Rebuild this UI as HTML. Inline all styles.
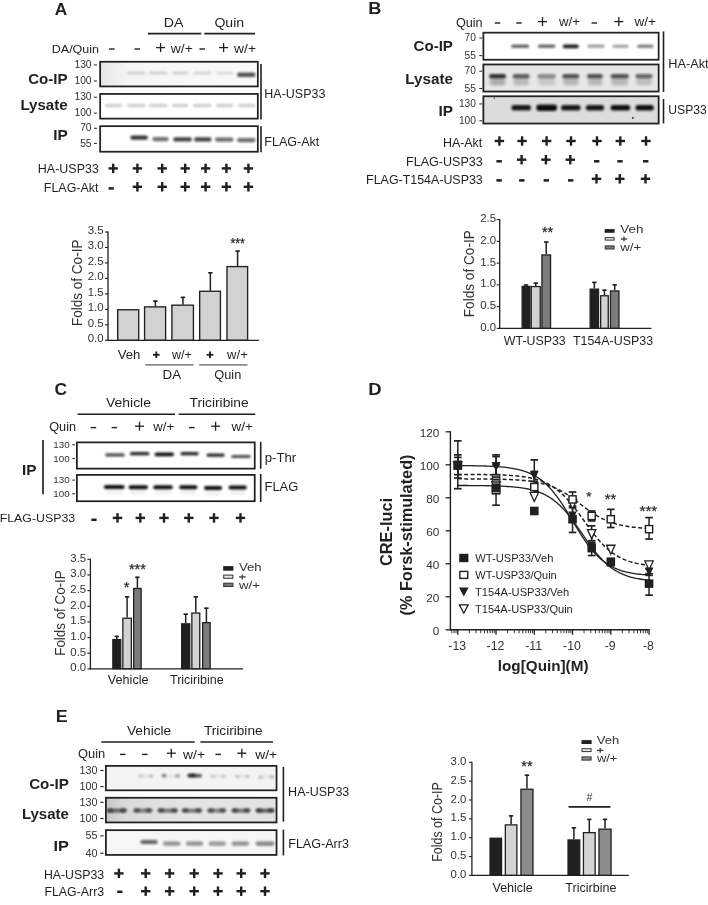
<!DOCTYPE html>
<html><head><meta charset="utf-8"><title>Figure</title>
<style>html,body{margin:0;padding:0;background:#fff;width:708px;height:905px;overflow:hidden;font-family:"Liberation Sans",sans-serif;}svg{display:block;filter:grayscale(1);}</style>
</head><body>
<svg width="708" height="905" viewBox="0 0 708 905" font-family='"Liberation Sans", sans-serif'><defs><filter id="b5" x="-50%" y="-100%" width="200%" height="300%"><feGaussianBlur stdDeviation="0.50"/></filter><filter id="b8" x="-50%" y="-100%" width="200%" height="300%"><feGaussianBlur stdDeviation="0.80"/></filter><filter id="b9" x="-50%" y="-100%" width="200%" height="300%"><feGaussianBlur stdDeviation="0.90"/></filter><filter id="b10" x="-50%" y="-100%" width="200%" height="300%"><feGaussianBlur stdDeviation="1.00"/></filter><filter id="b11" x="-50%" y="-100%" width="200%" height="300%"><feGaussianBlur stdDeviation="1.10"/></filter><filter id="b12" x="-50%" y="-100%" width="200%" height="300%"><feGaussianBlur stdDeviation="1.20"/></filter><filter id="b15" x="-50%" y="-100%" width="200%" height="300%"><feGaussianBlur stdDeviation="1.50"/></filter></defs><rect width="708" height="905" fill="#fff"/><text x="54.88" y="14.50" font-size="16.80" text-anchor="start" font-weight="bold" fill="#231f20" textLength="12.46" lengthAdjust="spacingAndGlyphs">A</text>
<text x="51.78" y="52.50" font-size="11.20" text-anchor="start" fill="#231f20" textLength="47.25" lengthAdjust="spacingAndGlyphs">DA/Quin</text>
<text x="163.68" y="26.70" font-size="12.40" text-anchor="start" fill="#231f20" textLength="19.74" lengthAdjust="spacingAndGlyphs">DA</text>
<text x="214.41" y="26.70" font-size="12.40" text-anchor="start" fill="#231f20" textLength="29.79" lengthAdjust="spacingAndGlyphs">Quin</text>
<line x1="147.90" y1="33.60" x2="201.30" y2="33.60" stroke="#231f20" stroke-width="1.60"/>
<line x1="204.30" y1="33.60" x2="255.10" y2="33.60" stroke="#231f20" stroke-width="1.60"/>
<rect x="109.05" y="48.30" width="5.50" height="1.40" fill="#231f20"/>
<rect x="134.45" y="48.30" width="5.50" height="1.40" fill="#231f20"/>
<rect x="156.10" y="46.95" width="9.00" height="1.30" fill="#231f20"/>
<rect x="159.95" y="43.10" width="1.30" height="9.00" fill="#231f20"/>
<text x="170.82" y="52.60" font-size="12.60" text-anchor="start" fill="#231f20" textLength="22.00" lengthAdjust="spacingAndGlyphs">w/+</text>
<rect x="199.45" y="48.30" width="5.50" height="1.40" fill="#231f20"/>
<rect x="219.10" y="46.95" width="9.00" height="1.30" fill="#231f20"/>
<rect x="222.95" y="43.10" width="1.30" height="9.00" fill="#231f20"/>
<text x="234.02" y="52.60" font-size="12.60" text-anchor="start" fill="#231f20" textLength="22.00" lengthAdjust="spacingAndGlyphs">w/+</text>
<defs><linearGradient id="ga" x1="0" x2="1" y1="0" y2="0"><stop offset="0" stop-color="#e6e6e6"/><stop offset="0.2" stop-color="#f6f6f6"/><stop offset="1" stop-color="#fafafa"/></linearGradient></defs>
<rect x="99.30" y="60.90" width="159.40" height="26.40" fill="url(#ga)"/>
<rect x="127.00" y="71.40" width="18.50" height="3.20" rx="1.60" fill="#111" fill-opacity="0.16" filter="url(#b11)"/>
<rect x="149.00" y="71.40" width="18.50" height="3.20" rx="1.60" fill="#111" fill-opacity="0.16" filter="url(#b11)"/>
<rect x="172.00" y="71.40" width="16.30" height="3.20" rx="1.60" fill="#111" fill-opacity="0.16" filter="url(#b11)"/>
<rect x="193.00" y="71.40" width="18.50" height="3.20" rx="1.60" fill="#111" fill-opacity="0.15" filter="url(#b11)"/>
<rect x="216.00" y="71.40" width="17.50" height="3.20" rx="1.60" fill="#111" fill-opacity="0.12" filter="url(#b11)"/>
<rect x="237.00" y="72.50" width="18.50" height="4.60" rx="2.30" fill="#111" fill-opacity="0.72" filter="url(#b11)"/>
<rect x="105.00" y="103.70" width="17.30" height="3.60" rx="1.80" fill="#111" fill-opacity="0.19" filter="url(#b12)"/>
<rect x="127.00" y="103.70" width="18.50" height="3.60" rx="1.80" fill="#111" fill-opacity="0.19" filter="url(#b12)"/>
<rect x="149.00" y="103.70" width="18.50" height="3.60" rx="1.80" fill="#111" fill-opacity="0.19" filter="url(#b12)"/>
<rect x="172.00" y="103.70" width="16.30" height="3.60" rx="1.80" fill="#111" fill-opacity="0.19" filter="url(#b12)"/>
<rect x="193.00" y="103.70" width="18.50" height="3.60" rx="1.80" fill="#111" fill-opacity="0.19" filter="url(#b12)"/>
<rect x="216.00" y="103.70" width="17.50" height="3.60" rx="1.80" fill="#111" fill-opacity="0.19" filter="url(#b12)"/>
<rect x="238.00" y="103.70" width="17.50" height="3.60" rx="1.80" fill="#111" fill-opacity="0.19" filter="url(#b12)"/>
<rect x="130.40" y="135.40" width="17.40" height="4.40" rx="2.20" fill="#111" fill-opacity="0.85" filter="url(#b10)"/>
<rect x="152.40" y="136.90" width="16.20" height="4.40" rx="2.20" fill="#111" fill-opacity="0.60" filter="url(#b10)"/>
<rect x="173.30" y="137.20" width="18.50" height="4.40" rx="2.20" fill="#111" fill-opacity="0.80" filter="url(#b10)"/>
<rect x="194.10" y="137.20" width="17.40" height="4.40" rx="2.20" fill="#111" fill-opacity="0.78" filter="url(#b10)"/>
<rect x="215.00" y="137.40" width="18.50" height="4.40" rx="2.20" fill="#111" fill-opacity="0.62" filter="url(#b10)"/>
<rect x="237.00" y="137.90" width="18.50" height="4.40" rx="2.20" fill="#111" fill-opacity="0.62" filter="url(#b10)"/>
<rect x="100.17" y="61.77" width="157.65" height="24.65" fill="none" stroke="#231f20" stroke-width="1.75"/>
<rect x="100.17" y="93.97" width="157.65" height="24.65" fill="none" stroke="#231f20" stroke-width="1.75"/>
<rect x="100.17" y="126.17" width="157.65" height="25.55" fill="none" stroke="#231f20" stroke-width="1.75"/>
<text x="91.60" y="68.00" font-size="10.30" text-anchor="end" fill="#333">130</text>
<line x1="94.00" y1="64.90" x2="96.90" y2="64.90" stroke="#333" stroke-width="1.10"/>
<text x="91.60" y="84.10" font-size="10.30" text-anchor="end" fill="#333">100</text>
<line x1="94.00" y1="81.00" x2="96.90" y2="81.00" stroke="#333" stroke-width="1.10"/>
<text x="91.60" y="100.30" font-size="10.30" text-anchor="end" fill="#333">130</text>
<line x1="94.00" y1="97.20" x2="96.90" y2="97.20" stroke="#333" stroke-width="1.10"/>
<text x="91.60" y="116.20" font-size="10.30" text-anchor="end" fill="#333">100</text>
<line x1="94.00" y1="113.10" x2="96.90" y2="113.10" stroke="#333" stroke-width="1.10"/>
<text x="91.60" y="131.40" font-size="10.30" text-anchor="end" fill="#333">70</text>
<line x1="94.00" y1="128.30" x2="96.90" y2="128.30" stroke="#333" stroke-width="1.10"/>
<text x="91.60" y="146.50" font-size="10.30" text-anchor="end" fill="#333">55</text>
<line x1="94.00" y1="143.40" x2="96.90" y2="143.40" stroke="#333" stroke-width="1.10"/>
<text x="28.17" y="83.50" font-size="15.30" text-anchor="start" font-weight="bold" fill="#231f20" textLength="39.45" lengthAdjust="spacingAndGlyphs">Co-IP</text>
<text x="20.38" y="110.30" font-size="15.30" text-anchor="start" font-weight="bold" fill="#231f20" textLength="47.25" lengthAdjust="spacingAndGlyphs">Lysate</text>
<text x="53.18" y="139.80" font-size="15.30" text-anchor="start" font-weight="bold" fill="#231f20" textLength="14.45" lengthAdjust="spacingAndGlyphs">IP</text>
<line x1="261.00" y1="64.00" x2="261.00" y2="119.40" stroke="#231f20" stroke-width="1.60"/>
<line x1="261.00" y1="126.20" x2="261.00" y2="152.20" stroke="#231f20" stroke-width="1.60"/>
<text x="264.38" y="98.00" font-size="12.40" text-anchor="start" fill="#231f20" textLength="60.96" lengthAdjust="spacingAndGlyphs">HA-USP33</text>
<text x="264.38" y="146.00" font-size="12.40" text-anchor="start" fill="#231f20" textLength="54.91" lengthAdjust="spacingAndGlyphs">FLAG-Akt</text>
<text x="37.89" y="173.30" font-size="12.30" text-anchor="start" fill="#231f20" textLength="60.95" lengthAdjust="spacingAndGlyphs">HA-USP33</text>
<text x="43.89" y="191.90" font-size="12.30" text-anchor="start" fill="#231f20" textLength="54.50" lengthAdjust="spacingAndGlyphs">FLAG-Akt</text>
<rect x="108.50" y="167.20" width="9.40" height="2.40" fill="#231f20"/>
<rect x="112.00" y="163.70" width="2.40" height="9.40" fill="#231f20"/>
<rect x="108.60" y="187.15" width="5.20" height="2.50" fill="#231f20"/>
<rect x="132.70" y="167.20" width="9.40" height="2.40" fill="#231f20"/>
<rect x="136.20" y="163.70" width="2.40" height="9.40" fill="#231f20"/>
<rect x="132.70" y="185.60" width="9.40" height="2.40" fill="#231f20"/>
<rect x="136.20" y="182.10" width="2.40" height="9.40" fill="#231f20"/>
<rect x="157.50" y="167.20" width="9.40" height="2.40" fill="#231f20"/>
<rect x="161.00" y="163.70" width="2.40" height="9.40" fill="#231f20"/>
<rect x="157.50" y="185.60" width="9.40" height="2.40" fill="#231f20"/>
<rect x="161.00" y="182.10" width="2.40" height="9.40" fill="#231f20"/>
<rect x="180.50" y="167.20" width="9.40" height="2.40" fill="#231f20"/>
<rect x="184.00" y="163.70" width="2.40" height="9.40" fill="#231f20"/>
<rect x="180.50" y="185.60" width="9.40" height="2.40" fill="#231f20"/>
<rect x="184.00" y="182.10" width="2.40" height="9.40" fill="#231f20"/>
<rect x="200.90" y="167.20" width="9.40" height="2.40" fill="#231f20"/>
<rect x="204.40" y="163.70" width="2.40" height="9.40" fill="#231f20"/>
<rect x="200.90" y="185.60" width="9.40" height="2.40" fill="#231f20"/>
<rect x="204.40" y="182.10" width="2.40" height="9.40" fill="#231f20"/>
<rect x="221.70" y="167.20" width="9.40" height="2.40" fill="#231f20"/>
<rect x="225.20" y="163.70" width="2.40" height="9.40" fill="#231f20"/>
<rect x="221.70" y="185.60" width="9.40" height="2.40" fill="#231f20"/>
<rect x="225.20" y="182.10" width="2.40" height="9.40" fill="#231f20"/>
<rect x="243.70" y="167.20" width="9.40" height="2.40" fill="#231f20"/>
<rect x="247.20" y="163.70" width="2.40" height="9.40" fill="#231f20"/>
<rect x="243.70" y="185.60" width="9.40" height="2.40" fill="#231f20"/>
<rect x="247.20" y="182.10" width="2.40" height="9.40" fill="#231f20"/>
<line x1="108.00" y1="231.50" x2="108.00" y2="340.90" stroke="#231f20" stroke-width="1.30"/>
<line x1="107.30" y1="340.30" x2="258.80" y2="340.30" stroke="#231f20" stroke-width="1.30"/>
<line x1="105.00" y1="340.30" x2="108.00" y2="340.30" stroke="#231f20" stroke-width="1.10"/>
<text x="103.60" y="342.00" font-size="11.40" text-anchor="end" fill="#333">0.0</text>
<line x1="105.00" y1="324.83" x2="108.00" y2="324.83" stroke="#231f20" stroke-width="1.10"/>
<text x="103.60" y="326.53" font-size="11.40" text-anchor="end" fill="#333">0.5</text>
<line x1="105.00" y1="309.36" x2="108.00" y2="309.36" stroke="#231f20" stroke-width="1.10"/>
<text x="103.60" y="311.06" font-size="11.40" text-anchor="end" fill="#333">1.0</text>
<line x1="105.00" y1="293.89" x2="108.00" y2="293.89" stroke="#231f20" stroke-width="1.10"/>
<text x="103.60" y="295.59" font-size="11.40" text-anchor="end" fill="#333">1.5</text>
<line x1="105.00" y1="278.41" x2="108.00" y2="278.41" stroke="#231f20" stroke-width="1.10"/>
<text x="103.60" y="280.11" font-size="11.40" text-anchor="end" fill="#333">2.0</text>
<line x1="105.00" y1="262.94" x2="108.00" y2="262.94" stroke="#231f20" stroke-width="1.10"/>
<text x="103.60" y="264.64" font-size="11.40" text-anchor="end" fill="#333">2.5</text>
<line x1="105.00" y1="247.47" x2="108.00" y2="247.47" stroke="#231f20" stroke-width="1.10"/>
<text x="103.60" y="249.17" font-size="11.40" text-anchor="end" fill="#333">3.0</text>
<line x1="105.00" y1="232.00" x2="108.00" y2="232.00" stroke="#231f20" stroke-width="1.10"/>
<text x="103.60" y="233.70" font-size="11.40" text-anchor="end" fill="#333">3.5</text>
<text transform="translate(81.80 282.80) rotate(-90)" x="0" y="0" font-size="14.00" text-anchor="middle" fill="#333" textLength="86.50" lengthAdjust="spacingAndGlyphs">Folds of Co-IP</text>
<rect x="117.67" y="309.78" width="21.05" height="30.35" fill="#d1d2d4" stroke="#231f20" stroke-width="1.35"/>
<line x1="155.40" y1="306.40" x2="155.40" y2="300.50" stroke="#231f20" stroke-width="1.50"/>
<line x1="153.20" y1="301.10" x2="157.60" y2="301.10" stroke="#231f20" stroke-width="1.60"/>
<rect x="144.57" y="306.88" width="21.05" height="33.25" fill="#d1d2d4" stroke="#231f20" stroke-width="1.35"/>
<line x1="182.95" y1="304.70" x2="182.95" y2="296.80" stroke="#231f20" stroke-width="1.50"/>
<line x1="180.75" y1="297.40" x2="185.15" y2="297.40" stroke="#231f20" stroke-width="1.60"/>
<rect x="171.88" y="305.18" width="21.55" height="34.95" fill="#d1d2d4" stroke="#231f20" stroke-width="1.35"/>
<line x1="210.35" y1="290.80" x2="210.35" y2="272.20" stroke="#231f20" stroke-width="1.50"/>
<line x1="208.15" y1="272.80" x2="212.55" y2="272.80" stroke="#231f20" stroke-width="1.60"/>
<rect x="199.68" y="291.28" width="20.75" height="48.85" fill="#d1d2d4" stroke="#231f20" stroke-width="1.35"/>
<line x1="237.60" y1="266.10" x2="237.60" y2="250.50" stroke="#231f20" stroke-width="1.50"/>
<line x1="235.40" y1="251.10" x2="239.80" y2="251.10" stroke="#231f20" stroke-width="1.60"/>
<rect x="226.97" y="266.58" width="20.65" height="73.55" fill="#d1d2d4" stroke="#231f20" stroke-width="1.35"/>
<text x="237.70" y="247.53" font-size="14.00" text-anchor="middle" fill="#2a2a2a" stroke="#2a2a2a" stroke-width="0.25" textLength="14.60" lengthAdjust="spacingAndGlyphs">***</text>
<text x="117.74" y="359.00" font-size="12.80" text-anchor="start" fill="#231f20" textLength="22.69" lengthAdjust="spacingAndGlyphs">Veh</text>
<rect x="153.00" y="353.85" width="6.60" height="1.90" fill="#231f20"/>
<rect x="155.35" y="351.50" width="1.90" height="6.60" fill="#231f20"/>
<text x="172.02" y="359.00" font-size="12.80" text-anchor="start" fill="#231f20" textLength="19.81" lengthAdjust="spacingAndGlyphs">w/+</text>
<rect x="206.70" y="353.85" width="6.60" height="1.90" fill="#231f20"/>
<rect x="209.05" y="351.50" width="1.90" height="6.60" fill="#231f20"/>
<text x="227.12" y="359.00" font-size="12.80" text-anchor="start" fill="#231f20" textLength="20.71" lengthAdjust="spacingAndGlyphs">w/+</text>
<line x1="145.30" y1="364.90" x2="193.60" y2="364.90" stroke="#8a8a8a" stroke-width="1.60"/>
<line x1="199.20" y1="364.90" x2="247.50" y2="364.90" stroke="#8a8a8a" stroke-width="1.60"/>
<text x="162.58" y="378.60" font-size="12.40" text-anchor="start" fill="#231f20" textLength="18.54" lengthAdjust="spacingAndGlyphs">DA</text>
<text x="214.31" y="378.60" font-size="12.40" text-anchor="start" fill="#231f20" textLength="26.99" lengthAdjust="spacingAndGlyphs">Quin</text>
<text x="368.18" y="14.10" font-size="16.80" text-anchor="start" font-weight="bold" fill="#231f20" textLength="13.19" lengthAdjust="spacingAndGlyphs">B</text>
<text x="455.91" y="26.70" font-size="12.40" text-anchor="start" fill="#231f20" textLength="26.69" lengthAdjust="spacingAndGlyphs">Quin</text>
<rect x="494.75" y="22.30" width="5.50" height="1.40" fill="#231f20"/>
<rect x="516.25" y="22.30" width="5.50" height="1.40" fill="#231f20"/>
<rect x="538.00" y="20.95" width="9.00" height="1.30" fill="#231f20"/>
<rect x="541.85" y="17.10" width="1.30" height="9.00" fill="#231f20"/>
<text x="559.02" y="26.40" font-size="12.60" text-anchor="start" fill="#231f20" textLength="21.00" lengthAdjust="spacingAndGlyphs">w/+</text>
<rect x="591.55" y="22.30" width="5.50" height="1.40" fill="#231f20"/>
<rect x="614.30" y="20.95" width="9.00" height="1.30" fill="#231f20"/>
<rect x="618.15" y="17.10" width="1.30" height="9.00" fill="#231f20"/>
<text x="634.42" y="26.40" font-size="12.60" text-anchor="start" fill="#231f20" textLength="21.50" lengthAdjust="spacingAndGlyphs">w/+</text>
<rect x="482.50" y="63.60" width="177.00" height="28.80" fill="#e7e7e7"/>
<rect x="482.50" y="95.40" width="177.00" height="29.00" fill="#dcdcdc"/>
<rect x="511.30" y="44.80" width="17.80" height="3.00" rx="1.50" fill="#111" fill-opacity="0.72" filter="url(#b8)"/>
<rect x="538.00" y="44.80" width="17.30" height="3.00" rx="1.50" fill="#111" fill-opacity="0.70" filter="url(#b8)"/>
<rect x="562.80" y="44.40" width="16.00" height="3.80" rx="1.90" fill="#111" fill-opacity="0.95" filter="url(#b8)"/>
<rect x="587.60" y="44.80" width="16.80" height="3.00" rx="1.50" fill="#111" fill-opacity="0.45" filter="url(#b8)"/>
<rect x="612.50" y="44.80" width="16.00" height="3.00" rx="1.50" fill="#111" fill-opacity="0.38" filter="url(#b8)"/>
<rect x="637.30" y="44.80" width="16.00" height="3.00" rx="1.50" fill="#111" fill-opacity="0.60" filter="url(#b8)"/>
<rect x="489.10" y="74.10" width="17.00" height="4.40" rx="2.20" fill="#111" fill-opacity="0.85" filter="url(#b10)"/>
<rect x="489.60" y="78.50" width="16.00" height="7.00" rx="3.50" fill="#111" fill-opacity="0.26" filter="url(#b15)"/>
<rect x="512.70" y="74.10" width="16.90" height="4.40" rx="2.20" fill="#111" fill-opacity="0.65" filter="url(#b10)"/>
<rect x="513.20" y="78.50" width="15.90" height="7.00" rx="3.50" fill="#111" fill-opacity="0.20" filter="url(#b15)"/>
<rect x="537.50" y="74.10" width="18.30" height="4.40" rx="2.20" fill="#111" fill-opacity="0.45" filter="url(#b10)"/>
<rect x="538.00" y="78.50" width="17.30" height="7.00" rx="3.50" fill="#111" fill-opacity="0.14" filter="url(#b15)"/>
<rect x="562.30" y="74.10" width="17.00" height="4.40" rx="2.20" fill="#111" fill-opacity="0.70" filter="url(#b10)"/>
<rect x="562.80" y="78.50" width="16.00" height="7.00" rx="3.50" fill="#111" fill-opacity="0.21" filter="url(#b15)"/>
<rect x="587.10" y="74.10" width="15.80" height="4.40" rx="2.20" fill="#111" fill-opacity="0.70" filter="url(#b10)"/>
<rect x="587.60" y="78.50" width="14.80" height="7.00" rx="3.50" fill="#111" fill-opacity="0.21" filter="url(#b15)"/>
<rect x="610.60" y="74.10" width="18.30" height="4.40" rx="2.20" fill="#111" fill-opacity="0.70" filter="url(#b10)"/>
<rect x="611.10" y="78.50" width="17.30" height="7.00" rx="3.50" fill="#111" fill-opacity="0.21" filter="url(#b15)"/>
<rect x="635.50" y="74.10" width="17.00" height="4.40" rx="2.20" fill="#111" fill-opacity="0.60" filter="url(#b10)"/>
<rect x="636.00" y="78.50" width="16.00" height="7.00" rx="3.50" fill="#111" fill-opacity="0.18" filter="url(#b15)"/>
<rect x="511.40" y="104.90" width="19.60" height="5.60" rx="2.80" fill="#111" fill-opacity="0.95" filter="url(#b9)"/>
<rect x="536.20" y="104.50" width="20.90" height="6.40" rx="3.20" fill="#111" fill-opacity="1.00" filter="url(#b9)"/>
<rect x="561.00" y="104.90" width="19.60" height="5.60" rx="2.80" fill="#111" fill-opacity="0.95" filter="url(#b9)"/>
<rect x="585.80" y="104.90" width="18.30" height="5.60" rx="2.80" fill="#111" fill-opacity="0.95" filter="url(#b9)"/>
<rect x="610.60" y="104.90" width="19.60" height="5.60" rx="2.80" fill="#111" fill-opacity="1.00" filter="url(#b9)"/>
<rect x="635.50" y="104.90" width="18.30" height="5.60" rx="2.80" fill="#111" fill-opacity="1.00" filter="url(#b9)"/>
<rect x="493.60" y="97.50" width="1.60" height="1.60" rx="0.80" fill="#111" fill-opacity="0.70" filter="url(#b5)"/>
<rect x="631.90" y="117.00" width="2.00" height="2.00" rx="1.00" fill="#111" fill-opacity="0.80" filter="url(#b5)"/>
<rect x="483.38" y="32.67" width="175.25" height="27.05" fill="none" stroke="#231f20" stroke-width="1.75"/>
<rect x="483.38" y="64.47" width="175.25" height="27.05" fill="none" stroke="#231f20" stroke-width="1.75"/>
<rect x="483.38" y="96.28" width="175.25" height="27.25" fill="none" stroke="#231f20" stroke-width="1.75"/>
<text x="475.90" y="41.00" font-size="10.20" text-anchor="end" fill="#333">70</text>
<line x1="479.30" y1="38.00" x2="482.20" y2="38.00" stroke="#333" stroke-width="1.10"/>
<text x="475.90" y="58.60" font-size="10.20" text-anchor="end" fill="#333">55</text>
<line x1="479.30" y1="55.60" x2="482.20" y2="55.60" stroke="#333" stroke-width="1.10"/>
<text x="475.90" y="74.20" font-size="10.20" text-anchor="end" fill="#333">70</text>
<line x1="479.30" y1="71.20" x2="482.20" y2="71.20" stroke="#333" stroke-width="1.10"/>
<text x="475.90" y="91.50" font-size="10.20" text-anchor="end" fill="#333">55</text>
<line x1="479.30" y1="88.50" x2="482.20" y2="88.50" stroke="#333" stroke-width="1.10"/>
<text x="475.90" y="106.90" font-size="10.20" text-anchor="end" fill="#333">130</text>
<line x1="479.30" y1="103.90" x2="482.20" y2="103.90" stroke="#333" stroke-width="1.10"/>
<text x="475.90" y="123.80" font-size="10.20" text-anchor="end" fill="#333">100</text>
<line x1="479.30" y1="120.80" x2="482.20" y2="120.80" stroke="#333" stroke-width="1.10"/>
<text x="413.57" y="51.00" font-size="15.30" text-anchor="start" font-weight="bold" fill="#231f20" textLength="39.35" lengthAdjust="spacingAndGlyphs">Co-IP</text>
<text x="405.28" y="84.30" font-size="15.30" text-anchor="start" font-weight="bold" fill="#231f20" textLength="47.65" lengthAdjust="spacingAndGlyphs">Lysate</text>
<text x="438.48" y="116.10" font-size="15.30" text-anchor="start" font-weight="bold" fill="#231f20" textLength="14.45" lengthAdjust="spacingAndGlyphs">IP</text>
<line x1="663.50" y1="31.40" x2="663.50" y2="91.90" stroke="#231f20" stroke-width="1.60"/>
<line x1="663.50" y1="99.00" x2="663.50" y2="123.40" stroke="#231f20" stroke-width="1.60"/>
<text x="668.32" y="68.10" font-size="12.00" text-anchor="start" fill="#231f20" textLength="40.27" lengthAdjust="spacingAndGlyphs">HA-Akt</text>
<text x="668.37" y="114.40" font-size="12.00" text-anchor="start" fill="#231f20" textLength="38.45" lengthAdjust="spacingAndGlyphs">USP33</text>
<text x="442.91" y="146.60" font-size="12.10" text-anchor="start" fill="#231f20" textLength="39.38" lengthAdjust="spacingAndGlyphs">HA-Akt</text>
<text x="406.01" y="165.70" font-size="12.10" text-anchor="start" fill="#231f20" textLength="76.72" lengthAdjust="spacingAndGlyphs">FLAG-USP33</text>
<text x="366.11" y="184.20" font-size="12.10" text-anchor="start" fill="#231f20" textLength="116.62" lengthAdjust="spacingAndGlyphs">FLAG-T154A-USP33</text>
<rect x="494.70" y="139.80" width="9.40" height="2.40" fill="#231f20"/>
<rect x="498.20" y="136.30" width="2.40" height="9.40" fill="#231f20"/>
<rect x="496.40" y="160.05" width="5.40" height="2.50" fill="#231f20"/>
<rect x="496.40" y="179.15" width="5.40" height="2.50" fill="#231f20"/>
<rect x="517.40" y="139.80" width="9.40" height="2.40" fill="#231f20"/>
<rect x="520.90" y="136.30" width="2.40" height="9.40" fill="#231f20"/>
<rect x="516.90" y="158.50" width="9.40" height="2.40" fill="#231f20"/>
<rect x="520.40" y="155.00" width="2.40" height="9.40" fill="#231f20"/>
<rect x="519.10" y="179.15" width="5.40" height="2.50" fill="#231f20"/>
<rect x="541.90" y="139.80" width="9.40" height="2.40" fill="#231f20"/>
<rect x="545.40" y="136.30" width="2.40" height="9.40" fill="#231f20"/>
<rect x="541.20" y="158.50" width="9.40" height="2.40" fill="#231f20"/>
<rect x="544.70" y="155.00" width="2.40" height="9.40" fill="#231f20"/>
<rect x="543.60" y="179.15" width="5.40" height="2.50" fill="#231f20"/>
<rect x="566.30" y="139.80" width="9.40" height="2.40" fill="#231f20"/>
<rect x="569.80" y="136.30" width="2.40" height="9.40" fill="#231f20"/>
<rect x="565.60" y="158.50" width="9.40" height="2.40" fill="#231f20"/>
<rect x="569.10" y="155.00" width="2.40" height="9.40" fill="#231f20"/>
<rect x="568.00" y="179.15" width="5.40" height="2.50" fill="#231f20"/>
<rect x="592.30" y="139.80" width="9.40" height="2.40" fill="#231f20"/>
<rect x="595.80" y="136.30" width="2.40" height="9.40" fill="#231f20"/>
<rect x="594.00" y="160.05" width="5.40" height="2.50" fill="#231f20"/>
<rect x="591.80" y="177.60" width="9.40" height="2.40" fill="#231f20"/>
<rect x="595.30" y="174.10" width="2.40" height="9.40" fill="#231f20"/>
<rect x="615.60" y="139.80" width="9.40" height="2.40" fill="#231f20"/>
<rect x="619.10" y="136.30" width="2.40" height="9.40" fill="#231f20"/>
<rect x="617.30" y="160.05" width="5.40" height="2.50" fill="#231f20"/>
<rect x="615.10" y="177.60" width="9.40" height="2.40" fill="#231f20"/>
<rect x="618.60" y="174.10" width="2.40" height="9.40" fill="#231f20"/>
<rect x="641.30" y="139.80" width="9.40" height="2.40" fill="#231f20"/>
<rect x="644.80" y="136.30" width="2.40" height="9.40" fill="#231f20"/>
<rect x="643.00" y="160.05" width="5.40" height="2.50" fill="#231f20"/>
<rect x="640.80" y="177.60" width="9.40" height="2.40" fill="#231f20"/>
<rect x="644.30" y="174.10" width="2.40" height="9.40" fill="#231f20"/>
<line x1="499.70" y1="219.10" x2="499.70" y2="329.00" stroke="#231f20" stroke-width="1.30"/>
<line x1="499.00" y1="328.40" x2="651.40" y2="328.40" stroke="#231f20" stroke-width="1.30"/>
<line x1="496.70" y1="328.40" x2="499.70" y2="328.40" stroke="#231f20" stroke-width="1.10"/>
<text x="496.00" y="330.90" font-size="11.40" text-anchor="end" fill="#333">0.0</text>
<line x1="496.70" y1="306.64" x2="499.70" y2="306.64" stroke="#231f20" stroke-width="1.10"/>
<text x="496.00" y="309.14" font-size="11.40" text-anchor="end" fill="#333">0.5</text>
<line x1="496.70" y1="284.88" x2="499.70" y2="284.88" stroke="#231f20" stroke-width="1.10"/>
<text x="496.00" y="287.38" font-size="11.40" text-anchor="end" fill="#333">1.0</text>
<line x1="496.70" y1="263.12" x2="499.70" y2="263.12" stroke="#231f20" stroke-width="1.10"/>
<text x="496.00" y="265.62" font-size="11.40" text-anchor="end" fill="#333">1.5</text>
<line x1="496.70" y1="241.36" x2="499.70" y2="241.36" stroke="#231f20" stroke-width="1.10"/>
<text x="496.00" y="243.86" font-size="11.40" text-anchor="end" fill="#333">2.0</text>
<line x1="496.70" y1="219.60" x2="499.70" y2="219.60" stroke="#231f20" stroke-width="1.10"/>
<text x="496.00" y="222.10" font-size="11.40" text-anchor="end" fill="#333">2.5</text>
<text transform="translate(473.80 273.70) rotate(-90)" x="0" y="0" font-size="14.00" text-anchor="middle" fill="#333" textLength="87.00" lengthAdjust="spacingAndGlyphs">Folds of Co-IP</text>
<line x1="526.05" y1="285.80" x2="526.05" y2="284.40" stroke="#231f20" stroke-width="1.50"/>
<line x1="523.85" y1="285.00" x2="528.25" y2="285.00" stroke="#231f20" stroke-width="1.60"/>
<line x1="535.75" y1="285.90" x2="535.75" y2="282.60" stroke="#231f20" stroke-width="1.50"/>
<line x1="533.55" y1="283.20" x2="537.95" y2="283.20" stroke="#231f20" stroke-width="1.60"/>
<line x1="546.25" y1="254.30" x2="546.25" y2="241.40" stroke="#231f20" stroke-width="1.50"/>
<line x1="544.05" y1="242.00" x2="548.45" y2="242.00" stroke="#231f20" stroke-width="1.60"/>
<line x1="594.35" y1="288.50" x2="594.35" y2="281.80" stroke="#231f20" stroke-width="1.50"/>
<line x1="592.15" y1="282.40" x2="596.55" y2="282.40" stroke="#231f20" stroke-width="1.60"/>
<line x1="604.45" y1="295.10" x2="604.45" y2="289.60" stroke="#231f20" stroke-width="1.50"/>
<line x1="602.25" y1="290.20" x2="606.65" y2="290.20" stroke="#231f20" stroke-width="1.60"/>
<line x1="614.70" y1="290.30" x2="614.70" y2="284.30" stroke="#231f20" stroke-width="1.50"/>
<line x1="612.50" y1="284.90" x2="616.90" y2="284.90" stroke="#231f20" stroke-width="1.60"/>
<rect x="522.15" y="286.45" width="7.80" height="41.80" fill="#231f20" stroke="#231f20" stroke-width="1.30"/>
<rect x="531.25" y="286.55" width="9.00" height="41.70" fill="#d1d2d4" stroke="#231f20" stroke-width="1.30"/>
<rect x="541.95" y="254.95" width="8.60" height="73.30" fill="#7b7c7e" stroke="#231f20" stroke-width="1.30"/>
<rect x="590.15" y="289.15" width="8.40" height="39.10" fill="#231f20" stroke="#231f20" stroke-width="1.30"/>
<rect x="600.65" y="295.75" width="7.60" height="32.50" fill="#d1d2d4" stroke="#231f20" stroke-width="1.30"/>
<rect x="610.45" y="290.95" width="8.50" height="37.30" fill="#7b7c7e" stroke="#231f20" stroke-width="1.30"/>
<text x="547.60" y="237.08" font-size="14.50" text-anchor="middle" fill="#2a2a2a" stroke="#2a2a2a" stroke-width="0.25">**</text>
<rect x="604.70" y="229.10" width="9.90" height="3.70" fill="#231f20"/>
<rect x="605.20" y="237.60" width="8.90" height="2.50" fill="#e6e6e6" stroke="#333" stroke-width="1.00"/>
<rect x="605.20" y="245.90" width="8.90" height="3.10" fill="#7b7c7e" stroke="#333" stroke-width="1.00"/>
<text x="620.15" y="232.90" font-size="11.20" text-anchor="start" fill="#333" textLength="23.28" lengthAdjust="spacingAndGlyphs">Veh</text>
<rect x="620.80" y="238.30" width="6.40" height="1.40" fill="#444"/>
<rect x="623.30" y="236.60" width="1.40" height="4.80" fill="#444"/>
<text x="620.22" y="251.00" font-size="11.20" text-anchor="start" fill="#333" textLength="21.14" lengthAdjust="spacingAndGlyphs">w/+</text>
<text x="503.84" y="344.80" font-size="12.70" text-anchor="start" fill="#231f20" textLength="61.91" lengthAdjust="spacingAndGlyphs">WT-USP33</text>
<text x="572.91" y="344.80" font-size="12.70" text-anchor="start" fill="#231f20" textLength="80.24" lengthAdjust="spacingAndGlyphs">T154A-USP33</text>
<text x="54.51" y="395.10" font-size="16.80" text-anchor="start" font-weight="bold" fill="#231f20" textLength="12.55" lengthAdjust="spacingAndGlyphs">C</text>
<text x="106.04" y="407.20" font-size="13.00" text-anchor="start" fill="#231f20" textLength="44.93" lengthAdjust="spacingAndGlyphs">Vehicle</text>
<text x="189.51" y="407.20" font-size="13.00" text-anchor="start" fill="#231f20" textLength="59.17" lengthAdjust="spacingAndGlyphs">Triciribine</text>
<line x1="77.50" y1="414.30" x2="175.00" y2="414.30" stroke="#231f20" stroke-width="1.60"/>
<line x1="178.60" y1="414.30" x2="255.30" y2="414.30" stroke="#231f20" stroke-width="1.60"/>
<text x="49.21" y="431.00" font-size="12.40" text-anchor="start" fill="#231f20" textLength="26.89" lengthAdjust="spacingAndGlyphs">Quin</text>
<rect x="90.65" y="426.90" width="5.50" height="1.40" fill="#231f20"/>
<rect x="111.65" y="426.90" width="5.50" height="1.40" fill="#231f20"/>
<rect x="135.00" y="425.55" width="9.00" height="1.30" fill="#231f20"/>
<rect x="138.85" y="421.70" width="1.30" height="9.00" fill="#231f20"/>
<text x="153.22" y="430.60" font-size="12.60" text-anchor="start" fill="#231f20" textLength="20.90" lengthAdjust="spacingAndGlyphs">w/+</text>
<rect x="189.05" y="426.90" width="5.50" height="1.40" fill="#231f20"/>
<rect x="211.10" y="425.55" width="9.00" height="1.30" fill="#231f20"/>
<rect x="214.95" y="421.70" width="1.30" height="9.00" fill="#231f20"/>
<text x="231.62" y="430.60" font-size="12.60" text-anchor="start" fill="#231f20" textLength="21.30" lengthAdjust="spacingAndGlyphs">w/+</text>
<line x1="43.00" y1="440.00" x2="43.00" y2="494.30" stroke="#231f20" stroke-width="1.70"/>
<text x="22.00" y="475.10" font-size="15.00" text-anchor="start" font-weight="bold" fill="#231f20" textLength="14.42" lengthAdjust="spacingAndGlyphs">IP</text>
<rect x="105.20" y="453.30" width="19.50" height="3.20" rx="1.60" fill="#111" fill-opacity="0.75" filter="url(#b8)"/>
<rect x="129.90" y="452.10" width="19.50" height="3.20" rx="1.60" fill="#111" fill-opacity="0.90" filter="url(#b8)"/>
<rect x="154.60" y="452.40" width="19.40" height="3.80" rx="1.90" fill="#111" fill-opacity="1.00" filter="url(#b8)"/>
<rect x="180.50" y="452.10" width="18.20" height="3.20" rx="1.60" fill="#111" fill-opacity="0.90" filter="url(#b8)"/>
<rect x="206.50" y="453.50" width="18.20" height="3.20" rx="1.60" fill="#111" fill-opacity="0.90" filter="url(#b8)"/>
<rect x="231.20" y="454.90" width="19.50" height="3.20" rx="1.60" fill="#111" fill-opacity="0.75" filter="url(#b8)"/>
<rect x="103.90" y="485.00" width="20.80" height="4.00" rx="2.00" fill="#111" fill-opacity="1.00" filter="url(#b9)"/>
<rect x="105.40" y="490.50" width="17.80" height="4.00" rx="2.00" fill="#111" fill-opacity="0.06" filter="url(#b12)"/>
<rect x="128.60" y="485.20" width="19.40" height="4.00" rx="2.00" fill="#111" fill-opacity="1.00" filter="url(#b9)"/>
<rect x="130.10" y="490.70" width="16.40" height="4.00" rx="2.00" fill="#111" fill-opacity="0.06" filter="url(#b12)"/>
<rect x="153.30" y="485.20" width="19.50" height="4.00" rx="2.00" fill="#111" fill-opacity="1.00" filter="url(#b9)"/>
<rect x="154.80" y="490.70" width="16.50" height="4.00" rx="2.00" fill="#111" fill-opacity="0.06" filter="url(#b12)"/>
<rect x="179.20" y="485.20" width="18.20" height="4.00" rx="2.00" fill="#111" fill-opacity="1.00" filter="url(#b9)"/>
<rect x="180.70" y="490.70" width="15.20" height="4.00" rx="2.00" fill="#111" fill-opacity="0.06" filter="url(#b12)"/>
<rect x="204.00" y="486.00" width="18.10" height="4.00" rx="2.00" fill="#111" fill-opacity="1.00" filter="url(#b9)"/>
<rect x="205.50" y="491.50" width="15.10" height="4.00" rx="2.00" fill="#111" fill-opacity="0.06" filter="url(#b12)"/>
<rect x="228.60" y="485.60" width="18.20" height="4.00" rx="2.00" fill="#111" fill-opacity="1.00" filter="url(#b9)"/>
<rect x="230.10" y="491.10" width="15.20" height="4.00" rx="2.00" fill="#111" fill-opacity="0.06" filter="url(#b12)"/>
<rect x="76.88" y="442.38" width="177.85" height="26.25" fill="none" stroke="#231f20" stroke-width="1.75"/>
<rect x="76.88" y="474.88" width="177.85" height="26.35" fill="none" stroke="#231f20" stroke-width="1.75"/>
<text x="69.60" y="447.90" font-size="9.80" text-anchor="end" fill="#333">130</text>
<line x1="72.30" y1="444.70" x2="75.00" y2="444.70" stroke="#333" stroke-width="1.10"/>
<text x="69.60" y="461.70" font-size="9.80" text-anchor="end" fill="#333">100</text>
<line x1="72.30" y1="458.50" x2="75.00" y2="458.50" stroke="#333" stroke-width="1.10"/>
<text x="69.60" y="483.30" font-size="9.80" text-anchor="end" fill="#333">130</text>
<line x1="72.30" y1="480.10" x2="75.00" y2="480.10" stroke="#333" stroke-width="1.10"/>
<text x="69.60" y="497.00" font-size="9.80" text-anchor="end" fill="#333">100</text>
<line x1="72.30" y1="493.80" x2="75.00" y2="493.80" stroke="#333" stroke-width="1.10"/>
<line x1="260.70" y1="441.80" x2="260.70" y2="468.70" stroke="#231f20" stroke-width="1.60"/>
<line x1="260.70" y1="474.00" x2="260.70" y2="502.00" stroke="#231f20" stroke-width="1.60"/>
<text x="264.73" y="462.40" font-size="12.00" text-anchor="start" fill="#231f20" textLength="31.47" lengthAdjust="spacingAndGlyphs">p-Thr</text>
<text x="264.52" y="491.40" font-size="12.00" text-anchor="start" fill="#231f20" textLength="33.78" lengthAdjust="spacingAndGlyphs">FLAG</text>
<text x="-0.27" y="521.60" font-size="11.80" text-anchor="start" fill="#231f20" textLength="75.39" lengthAdjust="spacingAndGlyphs">FLAG-USP33</text>
<rect x="91.40" y="518.55" width="5.20" height="2.50" fill="#231f20"/>
<rect x="112.80" y="516.70" width="9.40" height="2.40" fill="#231f20"/>
<rect x="116.30" y="513.20" width="2.40" height="9.40" fill="#231f20"/>
<rect x="135.60" y="516.70" width="9.40" height="2.40" fill="#231f20"/>
<rect x="139.10" y="513.20" width="2.40" height="9.40" fill="#231f20"/>
<rect x="159.30" y="516.70" width="9.40" height="2.40" fill="#231f20"/>
<rect x="162.80" y="513.20" width="2.40" height="9.40" fill="#231f20"/>
<rect x="184.10" y="516.70" width="9.40" height="2.40" fill="#231f20"/>
<rect x="187.60" y="513.20" width="2.40" height="9.40" fill="#231f20"/>
<rect x="209.30" y="516.70" width="9.40" height="2.40" fill="#231f20"/>
<rect x="212.80" y="513.20" width="2.40" height="9.40" fill="#231f20"/>
<rect x="235.80" y="516.70" width="9.40" height="2.40" fill="#231f20"/>
<rect x="239.30" y="513.20" width="2.40" height="9.40" fill="#231f20"/>
<line x1="90.40" y1="558.80" x2="90.40" y2="669.50" stroke="#231f20" stroke-width="1.30"/>
<line x1="89.70" y1="668.90" x2="242.90" y2="668.90" stroke="#231f20" stroke-width="1.30"/>
<line x1="87.40" y1="668.90" x2="90.40" y2="668.90" stroke="#231f20" stroke-width="1.10"/>
<text x="86.20" y="671.30" font-size="11.40" text-anchor="end" fill="#333">0.0</text>
<line x1="87.40" y1="653.24" x2="90.40" y2="653.24" stroke="#231f20" stroke-width="1.10"/>
<text x="86.20" y="655.64" font-size="11.40" text-anchor="end" fill="#333">0.5</text>
<line x1="87.40" y1="637.59" x2="90.40" y2="637.59" stroke="#231f20" stroke-width="1.10"/>
<text x="86.20" y="639.99" font-size="11.40" text-anchor="end" fill="#333">1.0</text>
<line x1="87.40" y1="621.93" x2="90.40" y2="621.93" stroke="#231f20" stroke-width="1.10"/>
<text x="86.20" y="624.33" font-size="11.40" text-anchor="end" fill="#333">1.5</text>
<line x1="87.40" y1="606.27" x2="90.40" y2="606.27" stroke="#231f20" stroke-width="1.10"/>
<text x="86.20" y="608.67" font-size="11.40" text-anchor="end" fill="#333">2.0</text>
<line x1="87.40" y1="590.61" x2="90.40" y2="590.61" stroke="#231f20" stroke-width="1.10"/>
<text x="86.20" y="593.01" font-size="11.40" text-anchor="end" fill="#333">2.5</text>
<line x1="87.40" y1="574.96" x2="90.40" y2="574.96" stroke="#231f20" stroke-width="1.10"/>
<text x="86.20" y="577.36" font-size="11.40" text-anchor="end" fill="#333">3.0</text>
<line x1="87.40" y1="559.30" x2="90.40" y2="559.30" stroke="#231f20" stroke-width="1.10"/>
<text x="86.20" y="561.70" font-size="11.40" text-anchor="end" fill="#333">3.5</text>
<text transform="translate(64.70 613.00) rotate(-90)" x="0" y="0" font-size="14.00" text-anchor="middle" fill="#333" textLength="85.50" lengthAdjust="spacingAndGlyphs">Folds of Co-IP</text>
<line x1="116.80" y1="638.90" x2="116.80" y2="635.80" stroke="#231f20" stroke-width="1.50"/>
<line x1="114.60" y1="636.40" x2="119.00" y2="636.40" stroke="#231f20" stroke-width="1.60"/>
<line x1="127.10" y1="617.60" x2="127.10" y2="596.30" stroke="#231f20" stroke-width="1.50"/>
<line x1="124.90" y1="596.90" x2="129.30" y2="596.90" stroke="#231f20" stroke-width="1.60"/>
<line x1="137.40" y1="587.80" x2="137.40" y2="576.70" stroke="#231f20" stroke-width="1.50"/>
<line x1="135.20" y1="577.30" x2="139.60" y2="577.30" stroke="#231f20" stroke-width="1.60"/>
<line x1="185.70" y1="623.20" x2="185.70" y2="613.60" stroke="#231f20" stroke-width="1.50"/>
<line x1="183.50" y1="614.20" x2="187.90" y2="614.20" stroke="#231f20" stroke-width="1.60"/>
<line x1="195.80" y1="612.40" x2="195.80" y2="596.30" stroke="#231f20" stroke-width="1.50"/>
<line x1="193.60" y1="596.90" x2="198.00" y2="596.90" stroke="#231f20" stroke-width="1.60"/>
<line x1="206.40" y1="622.00" x2="206.40" y2="607.60" stroke="#231f20" stroke-width="1.50"/>
<line x1="204.20" y1="608.20" x2="208.60" y2="608.20" stroke="#231f20" stroke-width="1.60"/>
<rect x="112.85" y="639.55" width="7.90" height="29.20" fill="#231f20" stroke="#231f20" stroke-width="1.30"/>
<rect x="122.85" y="618.25" width="8.50" height="50.50" fill="#d1d2d4" stroke="#231f20" stroke-width="1.30"/>
<rect x="133.65" y="588.45" width="7.50" height="80.30" fill="#7b7c7e" stroke="#231f20" stroke-width="1.30"/>
<rect x="181.65" y="623.85" width="8.10" height="44.90" fill="#231f20" stroke="#231f20" stroke-width="1.30"/>
<rect x="191.85" y="613.05" width="7.90" height="55.70" fill="#d1d2d4" stroke="#231f20" stroke-width="1.30"/>
<rect x="202.65" y="622.65" width="7.50" height="46.10" fill="#7b7c7e" stroke="#231f20" stroke-width="1.30"/>
<text x="126.60" y="592.38" font-size="14.50" text-anchor="middle" fill="#2a2a2a" stroke="#2a2a2a" stroke-width="0.25">*</text>
<text x="137.35" y="574.48" font-size="14.50" text-anchor="middle" fill="#2a2a2a" stroke="#2a2a2a" stroke-width="0.25">***</text>
<rect x="223.20" y="566.10" width="10.20" height="4.60" fill="#231f20"/>
<rect x="223.70" y="575.10" width="9.20" height="3.20" fill="#e6e6e6" stroke="#333" stroke-width="1.00"/>
<rect x="223.70" y="583.20" width="9.20" height="3.30" fill="#7b7c7e" stroke="#333" stroke-width="1.00"/>
<text x="238.95" y="570.70" font-size="10.90" text-anchor="start" fill="#333" textLength="22.76" lengthAdjust="spacingAndGlyphs">Veh</text>
<rect x="239.10" y="576.20" width="6.40" height="1.40" fill="#444"/>
<rect x="241.60" y="574.50" width="1.40" height="4.80" fill="#444"/>
<text x="239.02" y="588.60" font-size="10.90" text-anchor="start" fill="#333" textLength="20.92" lengthAdjust="spacingAndGlyphs">w/+</text>
<text x="107.74" y="684.30" font-size="12.80" text-anchor="start" fill="#231f20" textLength="40.83" lengthAdjust="spacingAndGlyphs">Vehicle</text>
<text x="170.02" y="683.90" font-size="12.60" text-anchor="start" fill="#231f20" textLength="53.64" lengthAdjust="spacingAndGlyphs">Triciribine</text>
<text x="368.18" y="395.30" font-size="16.80" text-anchor="start" font-weight="bold" fill="#231f20" textLength="13.33" lengthAdjust="spacingAndGlyphs">D</text>
<line x1="450.40" y1="431.30" x2="450.40" y2="630.50" stroke="#231f20" stroke-width="1.40"/>
<line x1="449.70" y1="629.80" x2="649.65" y2="629.80" stroke="#231f20" stroke-width="1.40"/>
<line x1="445.60" y1="629.80" x2="450.40" y2="629.80" stroke="#231f20" stroke-width="1.30"/>
<text x="439.40" y="635.10" font-size="11.80" text-anchor="end" fill="#333">0</text>
<line x1="445.60" y1="596.80" x2="450.40" y2="596.80" stroke="#231f20" stroke-width="1.30"/>
<text x="439.40" y="602.10" font-size="11.80" text-anchor="end" fill="#333">20</text>
<line x1="445.60" y1="563.80" x2="450.40" y2="563.80" stroke="#231f20" stroke-width="1.30"/>
<text x="439.40" y="569.10" font-size="11.80" text-anchor="end" fill="#333">40</text>
<line x1="445.60" y1="530.80" x2="450.40" y2="530.80" stroke="#231f20" stroke-width="1.30"/>
<text x="439.40" y="536.10" font-size="11.80" text-anchor="end" fill="#333">60</text>
<line x1="445.60" y1="497.80" x2="450.40" y2="497.80" stroke="#231f20" stroke-width="1.30"/>
<text x="439.40" y="503.10" font-size="11.80" text-anchor="end" fill="#333">80</text>
<line x1="445.60" y1="464.80" x2="450.40" y2="464.80" stroke="#231f20" stroke-width="1.30"/>
<text x="439.40" y="470.10" font-size="11.80" text-anchor="end" fill="#333">100</text>
<line x1="445.60" y1="431.80" x2="450.40" y2="431.80" stroke="#231f20" stroke-width="1.30"/>
<text x="439.40" y="437.10" font-size="11.80" text-anchor="end" fill="#333">120</text>
<line x1="457.80" y1="629.80" x2="457.80" y2="634.80" stroke="#231f20" stroke-width="1.30"/>
<text x="457.20" y="650.40" font-size="12.30" text-anchor="middle" fill="#333">-13</text>
<line x1="469.31" y1="629.80" x2="469.31" y2="633.20" stroke="#231f20" stroke-width="0.90"/>
<line x1="476.05" y1="629.80" x2="476.05" y2="633.20" stroke="#231f20" stroke-width="0.90"/>
<line x1="480.83" y1="629.80" x2="480.83" y2="633.20" stroke="#231f20" stroke-width="0.90"/>
<line x1="484.54" y1="629.80" x2="484.54" y2="633.20" stroke="#231f20" stroke-width="0.90"/>
<line x1="487.56" y1="629.80" x2="487.56" y2="633.20" stroke="#231f20" stroke-width="0.90"/>
<line x1="490.13" y1="629.80" x2="490.13" y2="633.20" stroke="#231f20" stroke-width="0.90"/>
<line x1="492.34" y1="629.80" x2="492.34" y2="633.20" stroke="#231f20" stroke-width="0.90"/>
<line x1="494.30" y1="629.80" x2="494.30" y2="633.20" stroke="#231f20" stroke-width="0.90"/>
<line x1="496.05" y1="629.80" x2="496.05" y2="634.80" stroke="#231f20" stroke-width="1.30"/>
<text x="495.45" y="650.40" font-size="12.30" text-anchor="middle" fill="#333">-12</text>
<line x1="507.56" y1="629.80" x2="507.56" y2="633.20" stroke="#231f20" stroke-width="0.90"/>
<line x1="514.30" y1="629.80" x2="514.30" y2="633.20" stroke="#231f20" stroke-width="0.90"/>
<line x1="519.08" y1="629.80" x2="519.08" y2="633.20" stroke="#231f20" stroke-width="0.90"/>
<line x1="522.79" y1="629.80" x2="522.79" y2="633.20" stroke="#231f20" stroke-width="0.90"/>
<line x1="525.81" y1="629.80" x2="525.81" y2="633.20" stroke="#231f20" stroke-width="0.90"/>
<line x1="528.38" y1="629.80" x2="528.38" y2="633.20" stroke="#231f20" stroke-width="0.90"/>
<line x1="530.59" y1="629.80" x2="530.59" y2="633.20" stroke="#231f20" stroke-width="0.90"/>
<line x1="532.55" y1="629.80" x2="532.55" y2="633.20" stroke="#231f20" stroke-width="0.90"/>
<line x1="534.30" y1="629.80" x2="534.30" y2="634.80" stroke="#231f20" stroke-width="1.30"/>
<text x="533.70" y="650.40" font-size="12.30" text-anchor="middle" fill="#333">-11</text>
<line x1="545.81" y1="629.80" x2="545.81" y2="633.20" stroke="#231f20" stroke-width="0.90"/>
<line x1="552.55" y1="629.80" x2="552.55" y2="633.20" stroke="#231f20" stroke-width="0.90"/>
<line x1="557.33" y1="629.80" x2="557.33" y2="633.20" stroke="#231f20" stroke-width="0.90"/>
<line x1="561.04" y1="629.80" x2="561.04" y2="633.20" stroke="#231f20" stroke-width="0.90"/>
<line x1="564.06" y1="629.80" x2="564.06" y2="633.20" stroke="#231f20" stroke-width="0.90"/>
<line x1="566.63" y1="629.80" x2="566.63" y2="633.20" stroke="#231f20" stroke-width="0.90"/>
<line x1="568.84" y1="629.80" x2="568.84" y2="633.20" stroke="#231f20" stroke-width="0.90"/>
<line x1="570.80" y1="629.80" x2="570.80" y2="633.20" stroke="#231f20" stroke-width="0.90"/>
<line x1="572.55" y1="629.80" x2="572.55" y2="634.80" stroke="#231f20" stroke-width="1.30"/>
<text x="571.95" y="650.40" font-size="12.30" text-anchor="middle" fill="#333">-10</text>
<line x1="584.06" y1="629.80" x2="584.06" y2="633.20" stroke="#231f20" stroke-width="0.90"/>
<line x1="590.80" y1="629.80" x2="590.80" y2="633.20" stroke="#231f20" stroke-width="0.90"/>
<line x1="595.58" y1="629.80" x2="595.58" y2="633.20" stroke="#231f20" stroke-width="0.90"/>
<line x1="599.29" y1="629.80" x2="599.29" y2="633.20" stroke="#231f20" stroke-width="0.90"/>
<line x1="602.31" y1="629.80" x2="602.31" y2="633.20" stroke="#231f20" stroke-width="0.90"/>
<line x1="604.88" y1="629.80" x2="604.88" y2="633.20" stroke="#231f20" stroke-width="0.90"/>
<line x1="607.09" y1="629.80" x2="607.09" y2="633.20" stroke="#231f20" stroke-width="0.90"/>
<line x1="609.05" y1="629.80" x2="609.05" y2="633.20" stroke="#231f20" stroke-width="0.90"/>
<line x1="610.80" y1="629.80" x2="610.80" y2="634.80" stroke="#231f20" stroke-width="1.30"/>
<text x="610.20" y="650.40" font-size="12.30" text-anchor="middle" fill="#333">-9</text>
<line x1="622.31" y1="629.80" x2="622.31" y2="633.20" stroke="#231f20" stroke-width="0.90"/>
<line x1="629.05" y1="629.80" x2="629.05" y2="633.20" stroke="#231f20" stroke-width="0.90"/>
<line x1="633.83" y1="629.80" x2="633.83" y2="633.20" stroke="#231f20" stroke-width="0.90"/>
<line x1="637.54" y1="629.80" x2="637.54" y2="633.20" stroke="#231f20" stroke-width="0.90"/>
<line x1="640.56" y1="629.80" x2="640.56" y2="633.20" stroke="#231f20" stroke-width="0.90"/>
<line x1="643.13" y1="629.80" x2="643.13" y2="633.20" stroke="#231f20" stroke-width="0.90"/>
<line x1="645.34" y1="629.80" x2="645.34" y2="633.20" stroke="#231f20" stroke-width="0.90"/>
<line x1="647.30" y1="629.80" x2="647.30" y2="633.20" stroke="#231f20" stroke-width="0.90"/>
<line x1="649.05" y1="629.80" x2="649.05" y2="634.80" stroke="#231f20" stroke-width="1.30"/>
<text x="648.45" y="650.40" font-size="12.30" text-anchor="middle" fill="#333">-8</text>
<line x1="451.88" y1="629.80" x2="451.88" y2="633.20" stroke="#231f20" stroke-width="0.90"/>
<line x1="454.09" y1="629.80" x2="454.09" y2="633.20" stroke="#231f20" stroke-width="0.90"/>
<line x1="456.05" y1="629.80" x2="456.05" y2="633.20" stroke="#231f20" stroke-width="0.90"/>
<text x="497.79" y="671.30" font-size="14.40" text-anchor="start" font-weight="bold" fill="#231f20" textLength="90.72" lengthAdjust="spacingAndGlyphs">log[Quin](M)</text>
<text transform="translate(392.30 532.00) rotate(-90)" x="0" y="0" font-size="15.60" text-anchor="middle" font-weight="bold" fill="#231f20" textLength="68.00" lengthAdjust="spacingAndGlyphs">CRE-luci</text>
<text transform="translate(412.00 535.00) rotate(-90)" x="0" y="0" font-size="15.60" text-anchor="middle" font-weight="bold" fill="#231f20" textLength="161.00" lengthAdjust="spacingAndGlyphs">(% Forsk-stimulated)</text>
<path d="M457.80 485.48 L459.39 485.48 L460.99 485.49 L462.58 485.50 L464.18 485.50 L465.77 485.51 L467.36 485.52 L468.96 485.53 L470.55 485.54 L472.14 485.55 L473.74 485.57 L475.33 485.58 L476.93 485.60 L478.52 485.61 L480.11 485.63 L481.71 485.65 L483.30 485.68 L484.89 485.70 L486.49 485.73 L488.08 485.76 L489.68 485.79 L491.27 485.83 L492.86 485.87 L494.46 485.92 L496.05 485.96 L497.64 486.02 L499.24 486.08 L500.83 486.14 L502.43 486.22 L504.02 486.29 L505.61 486.38 L507.21 486.48 L508.80 486.58 L510.39 486.70 L511.99 486.82 L513.58 486.96 L515.17 487.11 L516.77 487.28 L518.36 487.46 L519.96 487.66 L521.55 487.88 L523.14 488.12 L524.74 488.38 L526.33 488.67 L527.93 488.99 L529.52 489.33 L531.11 489.71 L532.71 490.12 L534.30 490.56 L535.89 491.05 L537.49 491.58 L539.08 492.16 L540.67 492.78 L542.27 493.46 L543.86 494.20 L545.46 495.00 L547.05 495.86 L548.64 496.78 L550.24 497.78 L551.83 498.85 L553.42 500.00 L555.02 501.23 L556.61 502.53 L558.21 503.93 L559.80 505.40 L561.39 506.97 L562.99 508.62 L564.58 510.35 L566.18 512.16 L567.77 514.06 L569.36 516.02 L570.96 518.06 L572.55 520.17 L574.14 522.33 L575.74 524.54 L577.33 526.79 L578.92 529.07 L580.52 531.37 L582.11 533.69 L583.71 536.00 L585.30 538.30 L586.89 540.59 L588.49 542.84 L590.08 545.05 L591.67 547.21 L593.27 549.31 L594.86 551.35 L596.46 553.32 L598.05 555.21 L599.64 557.03 L601.24 558.76 L602.83 560.41 L604.43 561.97 L606.02 563.45 L607.61 564.84 L609.21 566.15 L610.80 567.38 L612.39 568.52 L613.99 569.60 L615.58 570.59 L617.18 571.52 L618.77 572.38 L620.36 573.17 L621.96 573.91 L623.55 574.59 L625.14 575.22 L626.74 575.79 L628.33 576.32 L629.92 576.81 L631.52 577.26 L633.11 577.67 L634.71 578.04 L636.30 578.39 L637.89 578.70 L639.49 578.99 L641.08 579.25 L642.67 579.49 L644.27 579.71 L645.86 579.91 L647.46 580.10 L649.05 580.26" fill="none" stroke="#231f20" stroke-width="1.3"/>
<path d="M457.80 465.57 L459.39 465.58 L460.99 465.59 L462.58 465.61 L464.18 465.62 L465.77 465.64 L467.36 465.66 L468.96 465.68 L470.55 465.70 L472.14 465.72 L473.74 465.75 L475.33 465.78 L476.93 465.81 L478.52 465.84 L480.11 465.88 L481.71 465.92 L483.30 465.97 L484.89 466.02 L486.49 466.08 L488.08 466.14 L489.68 466.21 L491.27 466.28 L492.86 466.37 L494.46 466.46 L496.05 466.56 L497.64 466.67 L499.24 466.79 L500.83 466.92 L502.43 467.06 L504.02 467.22 L505.61 467.39 L507.21 467.59 L508.80 467.79 L510.39 468.02 L511.99 468.28 L513.58 468.55 L515.17 468.85 L516.77 469.18 L518.36 469.55 L519.96 469.94 L521.55 470.37 L523.14 470.84 L524.74 471.35 L526.33 471.91 L527.93 472.52 L529.52 473.18 L531.11 473.90 L532.71 474.68 L534.30 475.52 L535.89 476.44 L537.49 477.42 L539.08 478.49 L540.67 479.63 L542.27 480.86 L543.86 482.18 L545.46 483.58 L547.05 485.08 L548.64 486.68 L550.24 488.38 L551.83 490.17 L553.42 492.06 L555.02 494.05 L556.61 496.13 L558.21 498.30 L559.80 500.56 L561.39 502.90 L562.99 505.31 L564.58 507.79 L566.18 510.32 L567.77 512.91 L569.36 515.52 L570.96 518.16 L572.55 520.82 L574.14 523.47 L575.74 526.11 L577.33 528.73 L578.92 531.31 L580.52 533.85 L582.11 536.32 L583.71 538.74 L585.30 541.08 L586.89 543.34 L588.49 545.51 L590.08 547.59 L591.67 549.58 L593.27 551.47 L594.86 553.26 L596.46 554.95 L598.05 556.55 L599.64 558.05 L601.24 559.46 L602.83 560.78 L604.43 562.00 L606.02 563.15 L607.61 564.21 L609.21 565.20 L610.80 566.11 L612.39 566.95 L613.99 567.73 L615.58 568.45 L617.18 569.11 L618.77 569.72 L620.36 570.28 L621.96 570.79 L623.55 571.26 L625.14 571.70 L626.74 572.09 L628.33 572.45 L629.92 572.78 L631.52 573.08 L633.11 573.36 L634.71 573.61 L636.30 573.84 L637.89 574.05 L639.49 574.24 L641.08 574.41 L642.67 574.57 L644.27 574.72 L645.86 574.85 L647.46 574.97 L649.05 575.08" fill="none" stroke="#231f20" stroke-width="1.3"/>
<path d="M457.80 478.86 L459.39 478.86 L460.99 478.86 L462.58 478.87 L464.18 478.87 L465.77 478.88 L467.36 478.88 L468.96 478.89 L470.55 478.89 L472.14 478.90 L473.74 478.91 L475.33 478.92 L476.93 478.93 L478.52 478.94 L480.11 478.95 L481.71 478.96 L483.30 478.97 L484.89 478.99 L486.49 479.00 L488.08 479.02 L489.68 479.04 L491.27 479.06 L492.86 479.09 L494.46 479.11 L496.05 479.14 L497.64 479.17 L499.24 479.21 L500.83 479.24 L502.43 479.29 L504.02 479.33 L505.61 479.38 L507.21 479.44 L508.80 479.50 L510.39 479.57 L511.99 479.64 L513.58 479.72 L515.17 479.81 L516.77 479.91 L518.36 480.01 L519.96 480.13 L521.55 480.26 L523.14 480.40 L524.74 480.55 L526.33 480.72 L527.93 480.90 L529.52 481.10 L531.11 481.32 L532.71 481.55 L534.30 481.81 L535.89 482.09 L537.49 482.40 L539.08 482.73 L540.67 483.09 L542.27 483.48 L543.86 483.90 L545.46 484.36 L547.05 484.85 L548.64 485.37 L550.24 485.94 L551.83 486.55 L553.42 487.20 L555.02 487.89 L556.61 488.62 L558.21 489.40 L559.80 490.22 L561.39 491.09 L562.99 492.00 L564.58 492.96 L566.18 493.95 L567.77 494.99 L569.36 496.06 L570.96 497.16 L572.55 498.29 L574.14 499.45 L575.74 500.63 L577.33 501.82 L578.92 503.02 L580.52 504.23 L582.11 505.43 L583.71 506.63 L585.30 507.82 L586.89 508.99 L588.49 510.14 L590.08 511.26 L591.67 512.35 L593.27 513.40 L594.86 514.42 L596.46 515.40 L598.05 516.34 L599.64 517.23 L601.24 518.09 L602.83 518.89 L604.43 519.65 L606.02 520.37 L607.61 521.04 L609.21 521.67 L610.80 522.27 L612.39 522.82 L613.99 523.33 L615.58 523.80 L617.18 524.25 L618.77 524.65 L620.36 525.03 L621.96 525.38 L623.55 525.70 L625.14 526.00 L626.74 526.27 L628.33 526.52 L629.92 526.75 L631.52 526.96 L633.11 527.15 L634.71 527.33 L636.30 527.49 L637.89 527.64 L639.49 527.77 L641.08 527.89 L642.67 528.01 L644.27 528.11 L645.86 528.20 L647.46 528.29 L649.05 528.36" fill="none" stroke="#231f20" stroke-width="1.5" stroke-dasharray="4 2.4"/>
<path d="M457.80 474.42 L459.39 474.42 L460.99 474.43 L462.58 474.43 L464.18 474.44 L465.77 474.45 L467.36 474.45 L468.96 474.46 L470.55 474.47 L472.14 474.48 L473.74 474.49 L475.33 474.50 L476.93 474.52 L478.52 474.53 L480.11 474.55 L481.71 474.57 L483.30 474.59 L484.89 474.61 L486.49 474.63 L488.08 474.66 L489.68 474.69 L491.27 474.72 L492.86 474.75 L494.46 474.79 L496.05 474.83 L497.64 474.88 L499.24 474.93 L500.83 474.99 L502.43 475.05 L504.02 475.11 L505.61 475.19 L507.21 475.27 L508.80 475.36 L510.39 475.46 L511.99 475.57 L513.58 475.69 L515.17 475.82 L516.77 475.96 L518.36 476.12 L519.96 476.29 L521.55 476.48 L523.14 476.69 L524.74 476.91 L526.33 477.16 L527.93 477.43 L529.52 477.73 L531.11 478.05 L532.71 478.41 L534.30 478.80 L535.89 479.22 L537.49 479.68 L539.08 480.18 L540.67 480.72 L542.27 481.32 L543.86 481.96 L545.46 482.65 L547.05 483.41 L548.64 484.22 L550.24 485.10 L551.83 486.04 L553.42 487.06 L555.02 488.14 L556.61 489.31 L558.21 490.55 L559.80 491.87 L561.39 493.27 L562.99 494.76 L564.58 496.33 L566.18 497.97 L567.77 499.70 L569.36 501.51 L570.96 503.38 L572.55 505.33 L574.14 507.34 L575.74 509.40 L577.33 511.52 L578.92 513.67 L580.52 515.86 L582.11 518.07 L583.71 520.29 L585.30 522.51 L586.89 524.73 L588.49 526.93 L590.08 529.09 L591.67 531.23 L593.27 533.31 L594.86 535.34 L596.46 537.32 L598.05 539.22 L599.64 541.06 L601.24 542.81 L602.83 544.49 L604.43 546.09 L606.02 547.61 L607.61 549.05 L609.21 550.40 L610.80 551.68 L612.39 552.87 L613.99 553.99 L615.58 555.03 L617.18 556.00 L618.77 556.91 L620.36 557.75 L621.96 558.52 L623.55 559.24 L625.14 559.90 L626.74 560.51 L628.33 561.08 L629.92 561.60 L631.52 562.07 L633.11 562.51 L634.71 562.91 L636.30 563.28 L637.89 563.61 L639.49 563.92 L641.08 564.20 L642.67 564.46 L644.27 564.70 L645.86 564.91 L647.46 565.11 L649.05 565.29" fill="none" stroke="#231f20" stroke-width="1.5" stroke-dasharray="4 2.4"/>
<line x1="457.80" y1="488.73" x2="457.80" y2="440.88" stroke="#231f20" stroke-width="1.50"/>
<line x1="454.00" y1="488.73" x2="461.60" y2="488.73" stroke="#231f20" stroke-width="1.70"/>
<line x1="454.00" y1="440.88" x2="461.60" y2="440.88" stroke="#231f20" stroke-width="1.70"/>
<line x1="457.80" y1="474.70" x2="457.80" y2="454.90" stroke="#231f20" stroke-width="1.50"/>
<line x1="454.00" y1="474.70" x2="461.60" y2="474.70" stroke="#231f20" stroke-width="1.70"/>
<line x1="454.00" y1="454.90" x2="461.60" y2="454.90" stroke="#231f20" stroke-width="1.70"/>
<line x1="457.80" y1="478.00" x2="457.80" y2="457.38" stroke="#231f20" stroke-width="1.50"/>
<line x1="454.00" y1="478.00" x2="461.60" y2="478.00" stroke="#231f20" stroke-width="1.70"/>
<line x1="454.00" y1="457.38" x2="461.60" y2="457.38" stroke="#231f20" stroke-width="1.70"/>
<line x1="496.05" y1="505.23" x2="496.05" y2="454.90" stroke="#231f20" stroke-width="1.50"/>
<line x1="492.25" y1="505.23" x2="499.85" y2="505.23" stroke="#231f20" stroke-width="1.70"/>
<line x1="492.25" y1="454.90" x2="499.85" y2="454.90" stroke="#231f20" stroke-width="1.70"/>
<line x1="496.05" y1="492.85" x2="496.05" y2="456.55" stroke="#231f20" stroke-width="1.50"/>
<line x1="492.25" y1="492.85" x2="499.85" y2="492.85" stroke="#231f20" stroke-width="1.70"/>
<line x1="492.25" y1="456.55" x2="499.85" y2="456.55" stroke="#231f20" stroke-width="1.70"/>
<line x1="496.05" y1="487.90" x2="496.05" y2="464.80" stroke="#231f20" stroke-width="1.50"/>
<line x1="492.25" y1="487.90" x2="499.85" y2="487.90" stroke="#231f20" stroke-width="1.70"/>
<line x1="492.25" y1="464.80" x2="499.85" y2="464.80" stroke="#231f20" stroke-width="1.70"/>
<line x1="534.30" y1="481.30" x2="534.30" y2="459.85" stroke="#231f20" stroke-width="1.50"/>
<line x1="530.50" y1="481.30" x2="538.10" y2="481.30" stroke="#231f20" stroke-width="1.70"/>
<line x1="530.50" y1="459.85" x2="538.10" y2="459.85" stroke="#231f20" stroke-width="1.70"/>
<line x1="534.30" y1="494.50" x2="534.30" y2="471.40" stroke="#231f20" stroke-width="1.50"/>
<line x1="530.50" y1="494.50" x2="538.10" y2="494.50" stroke="#231f20" stroke-width="1.70"/>
<line x1="530.50" y1="471.40" x2="538.10" y2="471.40" stroke="#231f20" stroke-width="1.70"/>
<line x1="572.55" y1="532.45" x2="572.55" y2="506.05" stroke="#231f20" stroke-width="1.50"/>
<line x1="568.75" y1="532.45" x2="576.35" y2="532.45" stroke="#231f20" stroke-width="1.70"/>
<line x1="568.75" y1="506.05" x2="576.35" y2="506.05" stroke="#231f20" stroke-width="1.70"/>
<line x1="572.55" y1="507.70" x2="572.55" y2="492.02" stroke="#231f20" stroke-width="1.50"/>
<line x1="568.75" y1="507.70" x2="576.35" y2="507.70" stroke="#231f20" stroke-width="1.70"/>
<line x1="568.75" y1="492.02" x2="576.35" y2="492.02" stroke="#231f20" stroke-width="1.70"/>
<line x1="572.55" y1="517.60" x2="572.55" y2="497.80" stroke="#231f20" stroke-width="1.50"/>
<line x1="568.75" y1="517.60" x2="576.35" y2="517.60" stroke="#231f20" stroke-width="1.70"/>
<line x1="568.75" y1="497.80" x2="576.35" y2="497.80" stroke="#231f20" stroke-width="1.70"/>
<line x1="591.67" y1="555.55" x2="591.67" y2="542.35" stroke="#231f20" stroke-width="1.50"/>
<line x1="587.88" y1="555.55" x2="595.47" y2="555.55" stroke="#231f20" stroke-width="1.70"/>
<line x1="587.88" y1="542.35" x2="595.47" y2="542.35" stroke="#231f20" stroke-width="1.70"/>
<line x1="591.67" y1="520.90" x2="591.67" y2="511.00" stroke="#231f20" stroke-width="1.50"/>
<line x1="587.88" y1="520.90" x2="595.47" y2="520.90" stroke="#231f20" stroke-width="1.70"/>
<line x1="587.88" y1="511.00" x2="595.47" y2="511.00" stroke="#231f20" stroke-width="1.70"/>
<line x1="591.67" y1="540.70" x2="591.67" y2="525.85" stroke="#231f20" stroke-width="1.50"/>
<line x1="587.88" y1="540.70" x2="595.47" y2="540.70" stroke="#231f20" stroke-width="1.70"/>
<line x1="587.88" y1="525.85" x2="595.47" y2="525.85" stroke="#231f20" stroke-width="1.70"/>
<line x1="610.80" y1="527.50" x2="610.80" y2="509.35" stroke="#231f20" stroke-width="1.50"/>
<line x1="607.00" y1="527.50" x2="614.60" y2="527.50" stroke="#231f20" stroke-width="1.70"/>
<line x1="607.00" y1="509.35" x2="614.60" y2="509.35" stroke="#231f20" stroke-width="1.70"/>
<line x1="610.80" y1="565.45" x2="610.80" y2="558.85" stroke="#231f20" stroke-width="1.50"/>
<line x1="607.00" y1="565.45" x2="614.60" y2="565.45" stroke="#231f20" stroke-width="1.70"/>
<line x1="607.00" y1="558.85" x2="614.60" y2="558.85" stroke="#231f20" stroke-width="1.70"/>
<line x1="649.05" y1="595.15" x2="649.05" y2="573.70" stroke="#231f20" stroke-width="1.50"/>
<line x1="645.25" y1="595.15" x2="652.85" y2="595.15" stroke="#231f20" stroke-width="1.70"/>
<line x1="645.25" y1="573.70" x2="652.85" y2="573.70" stroke="#231f20" stroke-width="1.70"/>
<line x1="649.05" y1="539.05" x2="649.05" y2="517.60" stroke="#231f20" stroke-width="1.50"/>
<line x1="645.25" y1="539.05" x2="652.85" y2="539.05" stroke="#231f20" stroke-width="1.70"/>
<line x1="645.25" y1="517.60" x2="652.85" y2="517.60" stroke="#231f20" stroke-width="1.70"/>
<line x1="649.05" y1="575.35" x2="649.05" y2="568.75" stroke="#231f20" stroke-width="1.50"/>
<line x1="645.25" y1="575.35" x2="652.85" y2="575.35" stroke="#231f20" stroke-width="1.70"/>
<line x1="645.25" y1="568.75" x2="652.85" y2="568.75" stroke="#231f20" stroke-width="1.70"/>
<path d="M453.60 461.91 L462.00 461.91 L457.80 470.99 Z" fill="#fff" stroke="#231f20" stroke-width="1.3"/>
<path d="M491.85 481.71 L500.25 481.71 L496.05 490.79 Z" fill="#fff" stroke="#231f20" stroke-width="1.3"/>
<path d="M530.10 492.44 L538.50 492.44 L534.30 501.51 Z" fill="#fff" stroke="#231f20" stroke-width="1.3"/>
<path d="M568.35 499.86 L576.75 499.86 L572.55 508.94 Z" fill="#fff" stroke="#231f20" stroke-width="1.3"/>
<path d="M587.47 529.56 L595.88 529.56 L591.67 538.64 Z" fill="#fff" stroke="#231f20" stroke-width="1.3"/>
<path d="M606.60 545.24 L615.00 545.24 L610.80 554.31 Z" fill="#fff" stroke="#231f20" stroke-width="1.3"/>
<path d="M644.85 560.91 L653.25 560.91 L649.05 569.99 Z" fill="#fff" stroke="#231f20" stroke-width="1.3"/>
<rect x="454.20" y="462.02" width="7.20" height="7.20" fill="#fff" stroke="#231f20" stroke-width="1.40"/>
<rect x="492.45" y="484.30" width="7.20" height="7.20" fill="#fff" stroke="#231f20" stroke-width="1.40"/>
<rect x="530.70" y="483.47" width="7.20" height="7.20" fill="#fff" stroke="#231f20" stroke-width="1.40"/>
<rect x="568.95" y="495.85" width="7.20" height="7.20" fill="#fff" stroke="#231f20" stroke-width="1.40"/>
<rect x="588.08" y="512.35" width="7.20" height="7.20" fill="#fff" stroke="#231f20" stroke-width="1.40"/>
<rect x="607.20" y="515.65" width="7.20" height="7.20" fill="#fff" stroke="#231f20" stroke-width="1.40"/>
<rect x="645.45" y="525.55" width="7.20" height="7.20" fill="#fff" stroke="#231f20" stroke-width="1.40"/>
<path d="M453.60 461.91 L462.00 461.91 L457.80 470.99 Z" fill="#231f20"/>
<path d="M491.85 461.91 L500.25 461.91 L496.05 470.99 Z" fill="#231f20"/>
<path d="M530.10 471.48 L538.50 471.48 L534.30 480.56 Z" fill="#231f20"/>
<path d="M568.35 511.41 L576.75 511.41 L572.55 520.49 Z" fill="#231f20"/>
<path d="M587.47 542.76 L595.88 542.76 L591.67 551.84 Z" fill="#231f20"/>
<path d="M606.60 557.61 L615.00 557.61 L610.80 566.69 Z" fill="#231f20"/>
<path d="M644.85 567.51 L653.25 567.51 L649.05 576.59 Z" fill="#231f20"/>
<rect x="453.50" y="460.50" width="8.60" height="8.60" fill="#231f20"/>
<rect x="491.75" y="485.25" width="8.60" height="8.60" fill="#231f20"/>
<rect x="530.00" y="506.70" width="8.60" height="8.60" fill="#231f20"/>
<rect x="568.25" y="514.95" width="8.60" height="8.60" fill="#231f20"/>
<rect x="587.38" y="543.83" width="8.60" height="8.60" fill="#231f20"/>
<rect x="606.50" y="557.85" width="8.60" height="8.60" fill="#231f20"/>
<rect x="644.75" y="579.30" width="8.60" height="8.60" fill="#231f20"/>
<rect x="491.75" y="473.80" width="8.60" height="20.80" fill="#231f20"/>
<rect x="492.85" y="475.45" width="6.40" height="0.90" fill="#bbb"/>
<rect x="492.85" y="477.95" width="6.40" height="0.90" fill="#bbb"/>
<rect x="492.85" y="480.45" width="6.40" height="0.90" fill="#bbb"/>
<rect x="492.85" y="482.65" width="6.40" height="0.90" fill="#bbb"/>
<rect x="492.85" y="491.95" width="6.40" height="0.90" fill="#bbb"/>
<path d="M491.85 461.91 L500.25 461.91 L496.05 470.99 Z" fill="#231f20"/>
<text x="589.00" y="501.09" font-size="13.50" text-anchor="middle" fill="#2a2a2a" stroke="#2a2a2a" stroke-width="0.25">*</text>
<text x="610.50" y="504.18" font-size="14.50" text-anchor="middle" fill="#2a2a2a" stroke="#2a2a2a" stroke-width="0.25">**</text>
<text x="648.40" y="515.56" font-size="15.20" text-anchor="middle" fill="#2a2a2a" stroke="#2a2a2a" stroke-width="0.25">***</text>
<rect x="459.20" y="553.80" width="9.20" height="8.40" fill="#231f20"/>
<rect x="459.90" y="571.40" width="7.80" height="7.00" fill="#fff" stroke="#231f20" stroke-width="1.40"/>
<path d="M459.00 587.6 L468.60 587.6 L463.80 596.4 Z" fill="#231f20"/>
<path d="M459.40 604.9 L468.20 604.9 L463.80 613.2 Z" fill="#fff" stroke="#231f20" stroke-width="1.3"/>
<text x="475.25" y="561.80" font-size="11.40" text-anchor="start" fill="#231f20" textLength="78.09" lengthAdjust="spacingAndGlyphs">WT-USP33/Veh</text>
<text x="475.25" y="578.90" font-size="11.40" text-anchor="start" fill="#231f20" textLength="81.49" lengthAdjust="spacingAndGlyphs">WT-USP33/Quin</text>
<text x="475.04" y="596.00" font-size="11.40" text-anchor="start" fill="#231f20" textLength="94.20" lengthAdjust="spacingAndGlyphs">T154A-USP33/Veh</text>
<text x="475.04" y="613.10" font-size="11.40" text-anchor="start" fill="#231f20" textLength="97.70" lengthAdjust="spacingAndGlyphs">T154A-USP33/Quin</text>
<text x="55.68" y="721.60" font-size="16.80" text-anchor="start" font-weight="bold" fill="#231f20" textLength="11.98" lengthAdjust="spacingAndGlyphs">E</text>
<text x="126.94" y="734.70" font-size="13.00" text-anchor="start" fill="#231f20" textLength="44.33" lengthAdjust="spacingAndGlyphs">Vehicle</text>
<text x="203.91" y="735.30" font-size="13.00" text-anchor="start" fill="#231f20" textLength="58.67" lengthAdjust="spacingAndGlyphs">Triciribine</text>
<line x1="101.30" y1="742.00" x2="194.70" y2="742.00" stroke="#231f20" stroke-width="1.60"/>
<line x1="200.40" y1="742.00" x2="273.00" y2="742.00" stroke="#231f20" stroke-width="1.60"/>
<text x="78.01" y="758.00" font-size="12.40" text-anchor="start" fill="#231f20" textLength="27.29" lengthAdjust="spacingAndGlyphs">Quin</text>
<rect x="120.05" y="753.70" width="5.50" height="1.40" fill="#231f20"/>
<rect x="142.05" y="753.70" width="5.50" height="1.40" fill="#231f20"/>
<rect x="166.80" y="752.55" width="9.00" height="1.30" fill="#231f20"/>
<rect x="170.65" y="748.70" width="1.30" height="9.00" fill="#231f20"/>
<text x="183.12" y="759.00" font-size="12.60" text-anchor="start" fill="#231f20" textLength="21.90" lengthAdjust="spacingAndGlyphs">w/+</text>
<rect x="215.45" y="753.70" width="5.50" height="1.40" fill="#231f20"/>
<rect x="237.30" y="752.55" width="9.00" height="1.30" fill="#231f20"/>
<rect x="241.15" y="748.70" width="1.30" height="9.00" fill="#231f20"/>
<text x="255.22" y="759.00" font-size="12.60" text-anchor="start" fill="#231f20" textLength="21.80" lengthAdjust="spacingAndGlyphs">w/+</text>
<defs><linearGradient id="lg" x1="0" x2="1" y1="0" y2="0"><stop offset="0" stop-color="#c6c6c6"/><stop offset="0.12" stop-color="#dadada"/><stop offset="0.5" stop-color="#e5e5e5"/><stop offset="1" stop-color="#e2e2e2"/></linearGradient></defs>
<rect x="105.00" y="796.90" width="172.40" height="26.30" fill="url(#lg)"/>
<rect x="105.00" y="765.00" width="172.40" height="26.00" fill="#f4f4f4"/>
<rect x="105.00" y="829.30" width="172.40" height="26.40" fill="#f6f6f6"/>
<rect x="138.25" y="774.40" width="4.50" height="3.20" rx="1.60" fill="#111" fill-opacity="0.18" filter="url(#b9)"/>
<rect x="148.75" y="774.40" width="4.50" height="3.20" rx="1.60" fill="#111" fill-opacity="0.20" filter="url(#b9)"/>
<rect x="161.65" y="774.00" width="4.50" height="3.20" rx="1.60" fill="#111" fill-opacity="0.55" filter="url(#b9)"/>
<rect x="175.45" y="774.20" width="4.50" height="3.20" rx="1.60" fill="#111" fill-opacity="0.40" filter="url(#b9)"/>
<rect x="210.75" y="774.80" width="4.50" height="3.20" rx="1.60" fill="#111" fill-opacity="0.15" filter="url(#b9)"/>
<rect x="221.25" y="774.80" width="4.50" height="3.20" rx="1.60" fill="#111" fill-opacity="0.15" filter="url(#b9)"/>
<rect x="235.25" y="775.00" width="4.50" height="3.20" rx="1.60" fill="#111" fill-opacity="0.15" filter="url(#b9)"/>
<rect x="245.25" y="775.00" width="4.50" height="3.20" rx="1.60" fill="#111" fill-opacity="0.18" filter="url(#b9)"/>
<rect x="258.25" y="775.80" width="4.50" height="3.20" rx="1.60" fill="#111" fill-opacity="0.18" filter="url(#b9)"/>
<rect x="269.75" y="775.60" width="4.50" height="3.20" rx="1.60" fill="#111" fill-opacity="0.22" filter="url(#b9)"/>
<rect x="187.50" y="773.60" width="8.00" height="4.00" rx="2.00" fill="#111" fill-opacity="0.90" filter="url(#b9)"/>
<rect x="193.00" y="774.00" width="9.00" height="3.60" rx="1.80" fill="#111" fill-opacity="0.70" filter="url(#b9)"/>
<rect x="138.50" y="774.80" width="15.00" height="3.00" rx="1.50" fill="#111" fill-opacity="0.07" filter="url(#b12)"/>
<rect x="163.00" y="774.80" width="15.00" height="3.00" rx="1.50" fill="#111" fill-opacity="0.07" filter="url(#b12)"/>
<rect x="210.50" y="774.80" width="15.00" height="3.00" rx="1.50" fill="#111" fill-opacity="0.07" filter="url(#b12)"/>
<rect x="234.00" y="774.80" width="15.00" height="3.00" rx="1.50" fill="#111" fill-opacity="0.07" filter="url(#b12)"/>
<rect x="258.50" y="774.80" width="15.00" height="3.00" rx="1.50" fill="#111" fill-opacity="0.07" filter="url(#b12)"/>
<rect x="106.70" y="808.80" width="20.10" height="3.60" rx="1.80" fill="#111" fill-opacity="0.60" filter="url(#b10)"/>
<rect x="107.20" y="808.60" width="6.00" height="3.60" rx="1.80" fill="#111" fill-opacity="0.55" filter="url(#b8)"/>
<rect x="120.30" y="808.60" width="6.00" height="3.60" rx="1.80" fill="#111" fill-opacity="0.55" filter="url(#b8)"/>
<rect x="133.50" y="808.80" width="18.80" height="3.60" rx="1.80" fill="#111" fill-opacity="0.50" filter="url(#b10)"/>
<rect x="134.00" y="808.60" width="6.00" height="3.60" rx="1.80" fill="#111" fill-opacity="0.55" filter="url(#b8)"/>
<rect x="145.80" y="808.60" width="6.00" height="3.60" rx="1.80" fill="#111" fill-opacity="0.55" filter="url(#b8)"/>
<rect x="157.70" y="808.80" width="20.10" height="3.60" rx="1.80" fill="#111" fill-opacity="0.55" filter="url(#b10)"/>
<rect x="158.20" y="808.60" width="6.00" height="3.60" rx="1.80" fill="#111" fill-opacity="0.55" filter="url(#b8)"/>
<rect x="171.30" y="808.60" width="6.00" height="3.60" rx="1.80" fill="#111" fill-opacity="0.55" filter="url(#b8)"/>
<rect x="181.90" y="808.80" width="20.10" height="3.60" rx="1.80" fill="#111" fill-opacity="0.55" filter="url(#b10)"/>
<rect x="182.40" y="808.60" width="6.00" height="3.60" rx="1.80" fill="#111" fill-opacity="0.55" filter="url(#b8)"/>
<rect x="195.50" y="808.60" width="6.00" height="3.60" rx="1.80" fill="#111" fill-opacity="0.55" filter="url(#b8)"/>
<rect x="207.40" y="808.80" width="18.60" height="3.60" rx="1.80" fill="#111" fill-opacity="0.50" filter="url(#b10)"/>
<rect x="207.90" y="808.60" width="6.00" height="3.60" rx="1.80" fill="#111" fill-opacity="0.55" filter="url(#b8)"/>
<rect x="219.50" y="808.60" width="6.00" height="3.60" rx="1.80" fill="#111" fill-opacity="0.55" filter="url(#b8)"/>
<rect x="231.50" y="808.80" width="18.80" height="3.60" rx="1.80" fill="#111" fill-opacity="0.55" filter="url(#b10)"/>
<rect x="232.00" y="808.60" width="6.00" height="3.60" rx="1.80" fill="#111" fill-opacity="0.55" filter="url(#b8)"/>
<rect x="243.80" y="808.60" width="6.00" height="3.60" rx="1.80" fill="#111" fill-opacity="0.55" filter="url(#b8)"/>
<rect x="255.70" y="808.80" width="18.80" height="3.60" rx="1.80" fill="#111" fill-opacity="0.65" filter="url(#b10)"/>
<rect x="256.20" y="808.60" width="6.00" height="3.60" rx="1.80" fill="#111" fill-opacity="0.55" filter="url(#b8)"/>
<rect x="268.00" y="808.60" width="6.00" height="3.60" rx="1.80" fill="#111" fill-opacity="0.55" filter="url(#b8)"/>
<rect x="140.30" y="839.90" width="17.40" height="4.20" rx="2.10" fill="#111" fill-opacity="0.65" filter="url(#b10)"/>
<rect x="163.00" y="841.50" width="17.50" height="4.20" rx="2.10" fill="#111" fill-opacity="0.45" filter="url(#b10)"/>
<rect x="185.90" y="841.50" width="17.40" height="4.20" rx="2.10" fill="#111" fill-opacity="0.45" filter="url(#b10)"/>
<rect x="208.70" y="841.50" width="17.30" height="4.20" rx="2.10" fill="#111" fill-opacity="0.42" filter="url(#b10)"/>
<rect x="231.50" y="841.50" width="17.50" height="4.20" rx="2.10" fill="#111" fill-opacity="0.45" filter="url(#b10)"/>
<rect x="255.70" y="841.50" width="18.80" height="4.20" rx="2.10" fill="#111" fill-opacity="0.50" filter="url(#b10)"/>
<rect x="105.88" y="765.88" width="170.65" height="24.45" fill="none" stroke="#231f20" stroke-width="1.75"/>
<rect x="105.88" y="797.77" width="170.65" height="24.65" fill="none" stroke="#231f20" stroke-width="1.75"/>
<rect x="105.88" y="830.17" width="170.65" height="24.75" fill="none" stroke="#231f20" stroke-width="1.75"/>
<text x="97.40" y="773.80" font-size="10.80" text-anchor="end" fill="#333">130</text>
<line x1="100.30" y1="770.50" x2="103.60" y2="770.50" stroke="#333" stroke-width="1.20"/>
<text x="97.40" y="789.90" font-size="10.80" text-anchor="end" fill="#333">100</text>
<line x1="100.30" y1="786.60" x2="103.60" y2="786.60" stroke="#333" stroke-width="1.20"/>
<text x="97.40" y="805.60" font-size="10.80" text-anchor="end" fill="#333">130</text>
<line x1="100.30" y1="802.30" x2="103.60" y2="802.30" stroke="#333" stroke-width="1.20"/>
<text x="97.40" y="821.80" font-size="10.80" text-anchor="end" fill="#333">100</text>
<line x1="100.30" y1="818.50" x2="103.60" y2="818.50" stroke="#333" stroke-width="1.20"/>
<text x="97.40" y="839.20" font-size="10.80" text-anchor="end" fill="#333">55</text>
<line x1="100.30" y1="835.90" x2="103.60" y2="835.90" stroke="#333" stroke-width="1.20"/>
<text x="97.40" y="856.50" font-size="10.80" text-anchor="end" fill="#333">40</text>
<line x1="100.30" y1="853.20" x2="103.60" y2="853.20" stroke="#333" stroke-width="1.20"/>
<text x="29.17" y="788.90" font-size="15.30" text-anchor="start" font-weight="bold" fill="#231f20" textLength="39.65" lengthAdjust="spacingAndGlyphs">Co-IP</text>
<text x="21.88" y="819.20" font-size="15.30" text-anchor="start" font-weight="bold" fill="#231f20" textLength="46.95" lengthAdjust="spacingAndGlyphs">Lysate</text>
<text x="53.48" y="851.10" font-size="15.30" text-anchor="start" font-weight="bold" fill="#231f20" textLength="15.35" lengthAdjust="spacingAndGlyphs">IP</text>
<line x1="283.40" y1="766.90" x2="283.40" y2="821.70" stroke="#231f20" stroke-width="1.60"/>
<line x1="283.40" y1="829.70" x2="283.40" y2="855.40" stroke="#231f20" stroke-width="1.60"/>
<text x="288.10" y="796.00" font-size="12.20" text-anchor="start" fill="#231f20" textLength="61.24" lengthAdjust="spacingAndGlyphs">HA-USP33</text>
<text x="288.22" y="847.60" font-size="12.00" text-anchor="start" fill="#231f20" textLength="60.71" lengthAdjust="spacingAndGlyphs">FLAG-Arr3</text>
<text x="43.90" y="879.20" font-size="12.20" text-anchor="start" fill="#231f20" textLength="60.24" lengthAdjust="spacingAndGlyphs">HA-USP33</text>
<text x="44.40" y="895.60" font-size="12.20" text-anchor="start" fill="#231f20" textLength="59.74" lengthAdjust="spacingAndGlyphs">FLAG-Arr3</text>
<rect x="114.20" y="872.20" width="9.40" height="2.40" fill="#231f20"/>
<rect x="117.70" y="868.70" width="2.40" height="9.40" fill="#231f20"/>
<rect x="117.20" y="890.55" width="5.20" height="2.50" fill="#231f20"/>
<rect x="141.00" y="872.20" width="9.40" height="2.40" fill="#231f20"/>
<rect x="144.50" y="868.70" width="2.40" height="9.40" fill="#231f20"/>
<rect x="141.00" y="890.00" width="9.40" height="2.40" fill="#231f20"/>
<rect x="144.50" y="886.50" width="2.40" height="9.40" fill="#231f20"/>
<rect x="164.90" y="872.20" width="9.40" height="2.40" fill="#231f20"/>
<rect x="168.40" y="868.70" width="2.40" height="9.40" fill="#231f20"/>
<rect x="164.90" y="890.00" width="9.40" height="2.40" fill="#231f20"/>
<rect x="168.40" y="886.50" width="2.40" height="9.40" fill="#231f20"/>
<rect x="189.50" y="872.20" width="9.40" height="2.40" fill="#231f20"/>
<rect x="193.00" y="868.70" width="2.40" height="9.40" fill="#231f20"/>
<rect x="189.50" y="890.00" width="9.40" height="2.40" fill="#231f20"/>
<rect x="193.00" y="886.50" width="2.40" height="9.40" fill="#231f20"/>
<rect x="213.30" y="872.20" width="9.40" height="2.40" fill="#231f20"/>
<rect x="216.80" y="868.70" width="2.40" height="9.40" fill="#231f20"/>
<rect x="213.30" y="890.00" width="9.40" height="2.40" fill="#231f20"/>
<rect x="216.80" y="886.50" width="2.40" height="9.40" fill="#231f20"/>
<rect x="236.50" y="872.20" width="9.40" height="2.40" fill="#231f20"/>
<rect x="240.00" y="868.70" width="2.40" height="9.40" fill="#231f20"/>
<rect x="236.50" y="890.00" width="9.40" height="2.40" fill="#231f20"/>
<rect x="240.00" y="886.50" width="2.40" height="9.40" fill="#231f20"/>
<rect x="260.30" y="872.20" width="9.40" height="2.40" fill="#231f20"/>
<rect x="263.80" y="868.70" width="2.40" height="9.40" fill="#231f20"/>
<rect x="260.30" y="890.00" width="9.40" height="2.40" fill="#231f20"/>
<rect x="263.80" y="886.50" width="2.40" height="9.40" fill="#231f20"/>
<line x1="471.90" y1="761.80" x2="471.90" y2="876.00" stroke="#231f20" stroke-width="1.30"/>
<line x1="471.20" y1="875.40" x2="628.80" y2="875.40" stroke="#231f20" stroke-width="1.30"/>
<line x1="468.90" y1="875.40" x2="471.90" y2="875.40" stroke="#231f20" stroke-width="1.10"/>
<text x="466.40" y="878.00" font-size="11.40" text-anchor="end" fill="#333">0.0</text>
<line x1="468.90" y1="856.55" x2="471.90" y2="856.55" stroke="#231f20" stroke-width="1.10"/>
<text x="466.40" y="859.15" font-size="11.40" text-anchor="end" fill="#333">0.5</text>
<line x1="468.90" y1="837.70" x2="471.90" y2="837.70" stroke="#231f20" stroke-width="1.10"/>
<text x="466.40" y="840.30" font-size="11.40" text-anchor="end" fill="#333">1.0</text>
<line x1="468.90" y1="818.85" x2="471.90" y2="818.85" stroke="#231f20" stroke-width="1.10"/>
<text x="466.40" y="821.45" font-size="11.40" text-anchor="end" fill="#333">1.5</text>
<line x1="468.90" y1="800.00" x2="471.90" y2="800.00" stroke="#231f20" stroke-width="1.10"/>
<text x="466.40" y="802.60" font-size="11.40" text-anchor="end" fill="#333">2.0</text>
<line x1="468.90" y1="781.15" x2="471.90" y2="781.15" stroke="#231f20" stroke-width="1.10"/>
<text x="466.40" y="783.75" font-size="11.40" text-anchor="end" fill="#333">2.5</text>
<line x1="468.90" y1="762.30" x2="471.90" y2="762.30" stroke="#231f20" stroke-width="1.10"/>
<text x="466.40" y="764.90" font-size="11.40" text-anchor="end" fill="#333">3.0</text>
<text transform="translate(441.80 822.00) rotate(-90)" x="0" y="0" font-size="14.00" text-anchor="middle" fill="#333" textLength="79.70" lengthAdjust="spacingAndGlyphs">Folds of Co-IP</text>
<line x1="511.10" y1="824.20" x2="511.10" y2="815.30" stroke="#231f20" stroke-width="1.50"/>
<line x1="508.90" y1="815.90" x2="513.30" y2="815.90" stroke="#231f20" stroke-width="1.60"/>
<line x1="526.95" y1="788.60" x2="526.95" y2="774.60" stroke="#231f20" stroke-width="1.50"/>
<line x1="524.75" y1="775.20" x2="529.15" y2="775.20" stroke="#231f20" stroke-width="1.60"/>
<line x1="573.90" y1="839.30" x2="573.90" y2="827.20" stroke="#231f20" stroke-width="1.50"/>
<line x1="571.70" y1="827.80" x2="576.10" y2="827.80" stroke="#231f20" stroke-width="1.60"/>
<line x1="589.30" y1="832.00" x2="589.30" y2="818.80" stroke="#231f20" stroke-width="1.50"/>
<line x1="587.10" y1="819.40" x2="591.50" y2="819.40" stroke="#231f20" stroke-width="1.60"/>
<line x1="605.00" y1="828.50" x2="605.00" y2="818.80" stroke="#231f20" stroke-width="1.50"/>
<line x1="602.80" y1="819.40" x2="607.20" y2="819.40" stroke="#231f20" stroke-width="1.60"/>
<rect x="490.05" y="838.25" width="11.50" height="37.00" fill="#231f20" stroke="#231f20" stroke-width="1.30"/>
<rect x="505.35" y="824.85" width="11.50" height="50.40" fill="#d3d4d6" stroke="#231f20" stroke-width="1.30"/>
<rect x="520.95" y="789.25" width="12.00" height="86.00" fill="#8b8c8e" stroke="#231f20" stroke-width="1.30"/>
<rect x="568.05" y="839.95" width="11.70" height="35.30" fill="#231f20" stroke="#231f20" stroke-width="1.30"/>
<rect x="583.45" y="832.65" width="11.70" height="42.60" fill="#d3d4d6" stroke="#231f20" stroke-width="1.30"/>
<rect x="598.95" y="829.15" width="12.10" height="46.10" fill="#8b8c8e" stroke="#231f20" stroke-width="1.30"/>
<text x="527.00" y="771.18" font-size="14.50" text-anchor="middle" fill="#2a2a2a" stroke="#2a2a2a" stroke-width="0.25">**</text>
<text x="589.40" y="801.00" font-size="10.80" text-anchor="middle" fill="#333">#</text>
<line x1="568.60" y1="806.90" x2="610.40" y2="806.90" stroke="#231f20" stroke-width="1.80"/>
<rect x="581.50" y="740.10" width="10.10" height="3.90" fill="#231f20"/>
<rect x="582.00" y="748.70" width="9.10" height="2.90" fill="#e6e6e6" stroke="#333" stroke-width="1.00"/>
<rect x="582.00" y="756.90" width="9.10" height="3.20" fill="#8b8c8e" stroke="#333" stroke-width="1.00"/>
<text x="596.85" y="744.40" font-size="10.40" text-anchor="start" fill="#333" textLength="22.52" lengthAdjust="spacingAndGlyphs">Veh</text>
<rect x="597.00" y="749.70" width="6.40" height="1.40" fill="#444"/>
<rect x="599.50" y="748.00" width="1.40" height="4.80" fill="#444"/>
<text x="596.92" y="761.80" font-size="10.40" text-anchor="start" fill="#333" textLength="20.50" lengthAdjust="spacingAndGlyphs">w/+</text>
<text x="492.54" y="891.90" font-size="12.80" text-anchor="start" fill="#231f20" textLength="40.23" lengthAdjust="spacingAndGlyphs">Vehicle</text>
<text x="565.31" y="891.90" font-size="12.80" text-anchor="start" fill="#231f20" textLength="51.06" lengthAdjust="spacingAndGlyphs">Tricirbine</text></svg>
</body></html>
